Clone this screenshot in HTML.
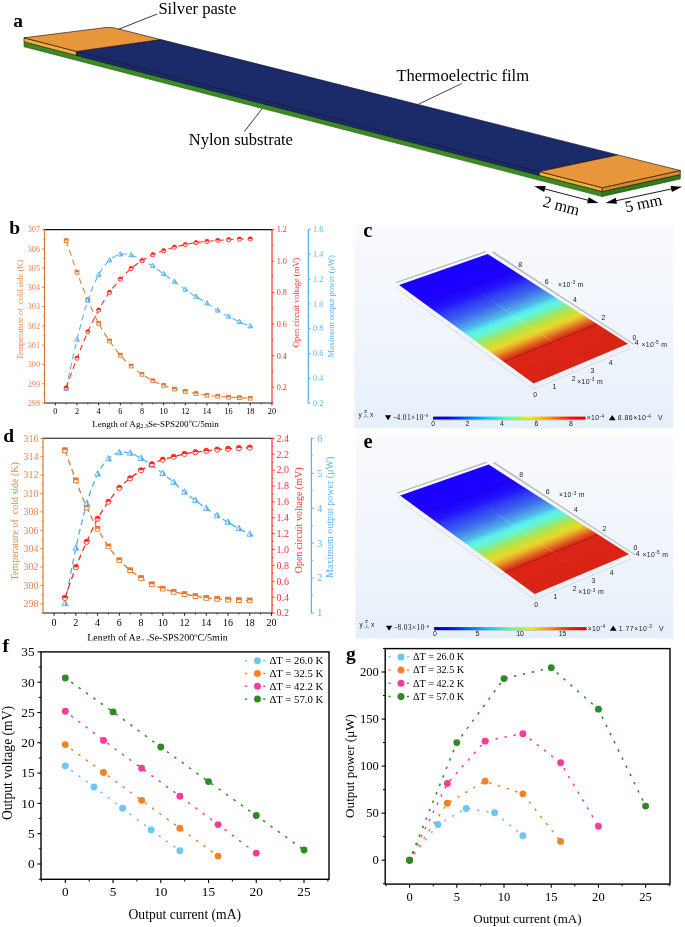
<!DOCTYPE html>
<html><head><meta charset="utf-8"><title>Figure</title>
<style>
html,body{margin:0;padding:0;background:#fff;}
body{width:685px;height:927px;overflow:hidden;font-family:"Liberation Serif",serif;}
svg{display:block;will-change:transform;}
.s{font-family:"Liberation Serif",serif;}
.n{font-family:"Liberation Sans",sans-serif;}
</style></head><body>
<svg width="685" height="927" viewBox="0 0 685 927">
<rect width="685" height="927" fill="#fff"/>
<g id="panel_a">
<polygon points="24,41.9 602.2,191.5 602.2,196.5 24,46.7" fill="#3b8a22" stroke="#245c14" stroke-width="0.65" stroke-linejoin="round"/>
<polygon points="602.2,191.5 680.3,174.6 680.3,178.9 602.2,196.5" fill="#2f7a1b" stroke="#1d4d10" stroke-width="0.65" stroke-linejoin="round"/>
<polygon points="24,37.8 76.4,51.4 76.4,55.47 24,41.9" fill="#f0b040" stroke="#1a1408" stroke-width="0.65" stroke-linejoin="round"/>
<polygon points="76.4,51.4 539.4,171.6 539.4,175.43 76.4,55.47" fill="#1b2a68" stroke="#0c1230" stroke-width="0.65" stroke-linejoin="round"/>
<polygon points="539.4,171.6 602.2,187.7 602.2,191.5 539.4,175.43" fill="#f0b040" stroke="#1a1408" stroke-width="0.65" stroke-linejoin="round"/>
<polygon points="602.2,187.7 680.3,170.5 680.3,174.6 602.2,191.5" fill="#d98a2e" stroke="#1a1408" stroke-width="0.65" stroke-linejoin="round"/>
<polygon points="76.4,51.4 160.8,39.6 617.8,154.9 539.4,171.6" fill="#1b2a68" stroke="#0c1230" stroke-width="0.65" stroke-linejoin="round"/>
<path d="M76.4 51.4 L24 37.8 L104.5 27.7 Q110.5 26.8 115.5 28.2 L160.8 39.6 Z" fill="#e8963c" stroke="#1a1408" stroke-width="0.65" stroke-linejoin="round"/>
<polygon points="539.4,171.6 617.8,154.9 680.3,170.5 602.2,187.7" fill="#e8963c" stroke="#1a1408" stroke-width="0.65" stroke-linejoin="round"/>
<line x1="157.2" y1="14" x2="118.7" y2="29.2" stroke="#222" stroke-width="0.9"/>
<line x1="461.8" y1="83.5" x2="413.5" y2="106.6" stroke="#333" stroke-width="0.9"/>
<line x1="261.8" y1="109" x2="244.3" y2="131.7" stroke="#222" stroke-width="0.9"/>
<text class="s" x="13.3" y="26.9" font-size="19.5" font-weight="bold">a</text>
<text class="s" x="158.4" y="13.6" font-size="16.6">Silver paste</text>
<text class="s" x="396.4" y="80.7" font-size="16.55">Thermoelectric film</text>
<text class="s" x="188.7" y="144.8" font-size="16.55">Nylon substrate</text>
<line x1="542.81" y1="188.42" x2="590.09" y2="200.78" stroke="#000" stroke-width="0.9"/><polygon points="534.3,186.2 544.16,191.98 545.73,185.98"/><polygon points="598.6,203 587.17,203.22 588.74,197.22"/>
<line x1="614.21" y1="201.16" x2="673.39" y2="188.54" stroke="#000" stroke-width="0.9"/><polygon points="605.6,203 617,203.74 615.71,197.67"/><polygon points="682,186.7 671.89,192.03 670.6,185.96"/>
<text class="s" x="560" y="211" font-size="16.2" text-anchor="middle" transform="rotate(14.6 560 211)">2 mm</text>
<text class="s" x="644.5" y="208.5" font-size="16.2" text-anchor="middle" transform="rotate(-12 644.5 208.5)">5 mm</text>
</g>
<g id="panel_bd">
<line x1="44" y1="229.6" x2="272.5" y2="229.6" stroke="#111" stroke-width="1.1"/>
<line x1="44" y1="403" x2="272.5" y2="403" stroke="#111" stroke-width="1.1"/>
<line x1="44.5" y1="229.6" x2="44.5" y2="403.5" stroke="#e07a30" stroke-width="1.2"/>
<line x1="272" y1="229.6" x2="272" y2="403.5" stroke="#ff2a20" stroke-width="1.2"/>
<line x1="308.3" y1="229.1" x2="308.3" y2="403.5" stroke="#4eb0f6" stroke-width="1.2"/>
<line x1="55.33" y1="403" x2="55.33" y2="405.4" stroke="#111" stroke-width="0.9"/>
<text class="s" x="55.33" y="414.2" font-size="8.2" text-anchor="middle">0</text>
<line x1="76.99" y1="403" x2="76.99" y2="405.4" stroke="#111" stroke-width="0.9"/>
<text class="s" x="76.99" y="414.2" font-size="8.2" text-anchor="middle">2</text>
<line x1="98.65" y1="403" x2="98.65" y2="405.4" stroke="#111" stroke-width="0.9"/>
<text class="s" x="98.65" y="414.2" font-size="8.2" text-anchor="middle">4</text>
<line x1="120.31" y1="403" x2="120.31" y2="405.4" stroke="#111" stroke-width="0.9"/>
<text class="s" x="120.31" y="414.2" font-size="8.2" text-anchor="middle">6</text>
<line x1="141.97" y1="403" x2="141.97" y2="405.4" stroke="#111" stroke-width="0.9"/>
<text class="s" x="141.97" y="414.2" font-size="8.2" text-anchor="middle">8</text>
<line x1="163.63" y1="403" x2="163.63" y2="405.4" stroke="#111" stroke-width="0.9"/>
<text class="s" x="163.63" y="414.2" font-size="8.2" text-anchor="middle">10</text>
<line x1="185.29" y1="403" x2="185.29" y2="405.4" stroke="#111" stroke-width="0.9"/>
<text class="s" x="185.29" y="414.2" font-size="8.2" text-anchor="middle">12</text>
<line x1="206.95" y1="403" x2="206.95" y2="405.4" stroke="#111" stroke-width="0.9"/>
<text class="s" x="206.95" y="414.2" font-size="8.2" text-anchor="middle">14</text>
<line x1="228.61" y1="403" x2="228.61" y2="405.4" stroke="#111" stroke-width="0.9"/>
<text class="s" x="228.61" y="414.2" font-size="8.2" text-anchor="middle">16</text>
<line x1="250.27" y1="403" x2="250.27" y2="405.4" stroke="#111" stroke-width="0.9"/>
<text class="s" x="250.27" y="414.2" font-size="8.2" text-anchor="middle">18</text>
<line x1="271.93" y1="403" x2="271.93" y2="405.4" stroke="#111" stroke-width="0.9"/>
<text class="s" x="271.93" y="414.2" font-size="8.2" text-anchor="middle">20</text>
<line x1="66.16" y1="403" x2="66.16" y2="404.32" stroke="#111" stroke-width="0.8"/>
<line x1="87.82" y1="403" x2="87.82" y2="404.32" stroke="#111" stroke-width="0.8"/>
<line x1="109.48" y1="403" x2="109.48" y2="404.32" stroke="#111" stroke-width="0.8"/>
<line x1="131.14" y1="403" x2="131.14" y2="404.32" stroke="#111" stroke-width="0.8"/>
<line x1="152.8" y1="403" x2="152.8" y2="404.32" stroke="#111" stroke-width="0.8"/>
<line x1="174.46" y1="403" x2="174.46" y2="404.32" stroke="#111" stroke-width="0.8"/>
<line x1="196.12" y1="403" x2="196.12" y2="404.32" stroke="#111" stroke-width="0.8"/>
<line x1="217.78" y1="403" x2="217.78" y2="404.32" stroke="#111" stroke-width="0.8"/>
<line x1="239.44" y1="403" x2="239.44" y2="404.32" stroke="#111" stroke-width="0.8"/>
<line x1="261.1" y1="403" x2="261.1" y2="404.32" stroke="#111" stroke-width="0.8"/>
<line x1="42.1" y1="403" x2="44.5" y2="403" stroke="#e07a30" stroke-width="0.9"/>
<text class="s" x="40" y="405.79" font-size="8.2" text-anchor="end" fill="#e8854a">298</text>
<line x1="42.1" y1="383.73" x2="44.5" y2="383.73" stroke="#e07a30" stroke-width="0.9"/>
<text class="s" x="40" y="386.52" font-size="8.2" text-anchor="end" fill="#e8854a">299</text>
<line x1="42.1" y1="364.47" x2="44.5" y2="364.47" stroke="#e07a30" stroke-width="0.9"/>
<text class="s" x="40" y="367.25" font-size="8.2" text-anchor="end" fill="#e8854a">300</text>
<line x1="42.1" y1="345.2" x2="44.5" y2="345.2" stroke="#e07a30" stroke-width="0.9"/>
<text class="s" x="40" y="347.99" font-size="8.2" text-anchor="end" fill="#e8854a">301</text>
<line x1="42.1" y1="325.93" x2="44.5" y2="325.93" stroke="#e07a30" stroke-width="0.9"/>
<text class="s" x="40" y="328.72" font-size="8.2" text-anchor="end" fill="#e8854a">302</text>
<line x1="42.1" y1="306.67" x2="44.5" y2="306.67" stroke="#e07a30" stroke-width="0.9"/>
<text class="s" x="40" y="309.45" font-size="8.2" text-anchor="end" fill="#e8854a">303</text>
<line x1="42.1" y1="287.4" x2="44.5" y2="287.4" stroke="#e07a30" stroke-width="0.9"/>
<text class="s" x="40" y="290.19" font-size="8.2" text-anchor="end" fill="#e8854a">304</text>
<line x1="42.1" y1="268.13" x2="44.5" y2="268.13" stroke="#e07a30" stroke-width="0.9"/>
<text class="s" x="40" y="270.92" font-size="8.2" text-anchor="end" fill="#e8854a">305</text>
<line x1="42.1" y1="248.87" x2="44.5" y2="248.87" stroke="#e07a30" stroke-width="0.9"/>
<text class="s" x="40" y="251.65" font-size="8.2" text-anchor="end" fill="#e8854a">306</text>
<line x1="42.1" y1="229.6" x2="44.5" y2="229.6" stroke="#e07a30" stroke-width="0.9"/>
<text class="s" x="40" y="232.39" font-size="8.2" text-anchor="end" fill="#e8854a">307</text>
<line x1="43.18" y1="393.37" x2="44.5" y2="393.37" stroke="#e07a30" stroke-width="0.8"/>
<line x1="43.18" y1="374.1" x2="44.5" y2="374.1" stroke="#e07a30" stroke-width="0.8"/>
<line x1="43.18" y1="354.83" x2="44.5" y2="354.83" stroke="#e07a30" stroke-width="0.8"/>
<line x1="43.18" y1="335.57" x2="44.5" y2="335.57" stroke="#e07a30" stroke-width="0.8"/>
<line x1="43.18" y1="316.3" x2="44.5" y2="316.3" stroke="#e07a30" stroke-width="0.8"/>
<line x1="43.18" y1="297.03" x2="44.5" y2="297.03" stroke="#e07a30" stroke-width="0.8"/>
<line x1="43.18" y1="277.77" x2="44.5" y2="277.77" stroke="#e07a30" stroke-width="0.8"/>
<line x1="43.18" y1="258.5" x2="44.5" y2="258.5" stroke="#e07a30" stroke-width="0.8"/>
<line x1="43.18" y1="239.23" x2="44.5" y2="239.23" stroke="#e07a30" stroke-width="0.8"/>
<line x1="272" y1="387.24" x2="274.4" y2="387.24" stroke="#ff2a20" stroke-width="0.9"/>
<text class="s" x="276.7" y="390.02" font-size="8.2" fill="#ff3030">0.2</text>
<line x1="272" y1="355.71" x2="274.4" y2="355.71" stroke="#ff2a20" stroke-width="0.9"/>
<text class="s" x="276.7" y="358.5" font-size="8.2" fill="#ff3030">0.4</text>
<line x1="272" y1="324.18" x2="274.4" y2="324.18" stroke="#ff2a20" stroke-width="0.9"/>
<text class="s" x="276.7" y="326.97" font-size="8.2" fill="#ff3030">0.6</text>
<line x1="272" y1="292.65" x2="274.4" y2="292.65" stroke="#ff2a20" stroke-width="0.9"/>
<text class="s" x="276.7" y="295.44" font-size="8.2" fill="#ff3030">0.8</text>
<line x1="272" y1="261.13" x2="274.4" y2="261.13" stroke="#ff2a20" stroke-width="0.9"/>
<text class="s" x="276.7" y="263.92" font-size="8.2" fill="#ff3030">1.0</text>
<line x1="272" y1="229.6" x2="274.4" y2="229.6" stroke="#ff2a20" stroke-width="0.9"/>
<text class="s" x="276.7" y="232.39" font-size="8.2" fill="#ff3030">1.2</text>
<line x1="272" y1="403" x2="273.32" y2="403" stroke="#ff2a20" stroke-width="0.8"/>
<line x1="272" y1="371.47" x2="273.32" y2="371.47" stroke="#ff2a20" stroke-width="0.8"/>
<line x1="272" y1="339.95" x2="273.32" y2="339.95" stroke="#ff2a20" stroke-width="0.8"/>
<line x1="272" y1="308.42" x2="273.32" y2="308.42" stroke="#ff2a20" stroke-width="0.8"/>
<line x1="272" y1="276.89" x2="273.32" y2="276.89" stroke="#ff2a20" stroke-width="0.8"/>
<line x1="272" y1="245.36" x2="273.32" y2="245.36" stroke="#ff2a20" stroke-width="0.8"/>
<line x1="308.3" y1="403" x2="310.7" y2="403" stroke="#4eb0f6" stroke-width="0.9"/>
<text class="s" x="313.1" y="405.79" font-size="8.2" fill="#55b5f5">0.2</text>
<line x1="308.3" y1="378.23" x2="310.7" y2="378.23" stroke="#4eb0f6" stroke-width="0.9"/>
<text class="s" x="313.1" y="381.02" font-size="8.2" fill="#55b5f5">0.4</text>
<line x1="308.3" y1="353.46" x2="310.7" y2="353.46" stroke="#4eb0f6" stroke-width="0.9"/>
<text class="s" x="313.1" y="356.25" font-size="8.2" fill="#55b5f5">0.6</text>
<line x1="308.3" y1="328.69" x2="310.7" y2="328.69" stroke="#4eb0f6" stroke-width="0.9"/>
<text class="s" x="313.1" y="331.47" font-size="8.2" fill="#55b5f5">0.8</text>
<line x1="308.3" y1="303.91" x2="310.7" y2="303.91" stroke="#4eb0f6" stroke-width="0.9"/>
<text class="s" x="313.1" y="306.7" font-size="8.2" fill="#55b5f5">1.0</text>
<line x1="308.3" y1="279.14" x2="310.7" y2="279.14" stroke="#4eb0f6" stroke-width="0.9"/>
<text class="s" x="313.1" y="281.93" font-size="8.2" fill="#55b5f5">1.2</text>
<line x1="308.3" y1="254.37" x2="310.7" y2="254.37" stroke="#4eb0f6" stroke-width="0.9"/>
<text class="s" x="313.1" y="257.16" font-size="8.2" fill="#55b5f5">1.4</text>
<line x1="308.3" y1="229.6" x2="310.7" y2="229.6" stroke="#4eb0f6" stroke-width="0.9"/>
<text class="s" x="313.1" y="232.39" font-size="8.2" fill="#55b5f5">1.6</text>
<line x1="308.3" y1="390.61" x2="309.62" y2="390.61" stroke="#4eb0f6" stroke-width="0.8"/>
<line x1="308.3" y1="365.84" x2="309.62" y2="365.84" stroke="#4eb0f6" stroke-width="0.8"/>
<line x1="308.3" y1="341.07" x2="309.62" y2="341.07" stroke="#4eb0f6" stroke-width="0.8"/>
<line x1="308.3" y1="316.3" x2="309.62" y2="316.3" stroke="#4eb0f6" stroke-width="0.8"/>
<line x1="308.3" y1="291.53" x2="309.62" y2="291.53" stroke="#4eb0f6" stroke-width="0.8"/>
<line x1="308.3" y1="266.76" x2="309.62" y2="266.76" stroke="#4eb0f6" stroke-width="0.8"/>
<line x1="308.3" y1="241.99" x2="309.62" y2="241.99" stroke="#4eb0f6" stroke-width="0.8"/>
<text class="s" x="22.6" y="309.8" font-size="8.45" text-anchor="middle" fill="#e8854a" transform="rotate(-90 22.6 309.8)">Temperature of&#160; cold side (K)</text>
<text class="s" x="298.9" y="302.5" font-size="8.45" text-anchor="middle" fill="#ff3030" transform="rotate(-90 298.9 302.5)">Open circuit voltage (mV)</text>
<text class="s" x="333.9" y="306.3" font-size="8.45" text-anchor="middle" fill="#55b5f5" transform="rotate(-90 333.9 306.3)">Maximum output power (&#956;W)</text>
<text class="s" x="92.2" y="426.5" font-size="9.05">Length of Ag<tspan font-size="5.97" dy="1.99">2.3</tspan><tspan dy="-1.99">Se-SPS200</tspan><tspan font-size="5.97" dy="-3.26">o</tspan><tspan dy="3.26">C/5min</tspan></text>
<path d="M66.16 240.6 C67.97 245.88 73.38 262.42 76.99 272.3 C80.6 282.18 84.21 291.42 87.82 299.9 C91.43 308.38 95.04 316.37 98.65 323.2 C102.26 330.03 105.87 335.57 109.48 340.9 C113.09 346.23 116.7 351.02 120.31 355.2 C123.92 359.38 127.53 362.82 131.14 366 C134.75 369.18 138.36 371.83 141.97 374.3 C145.58 376.77 149.19 378.95 152.8 380.8 C156.41 382.65 160.02 384.02 163.63 385.4 C167.24 386.78 170.85 388.1 174.46 389.1 C178.07 390.1 181.68 390.65 185.29 391.4 C188.9 392.15 192.51 392.97 196.12 393.6 C199.73 394.23 203.34 394.77 206.95 395.2 C210.56 395.63 214.17 395.87 217.78 396.2 C221.39 396.53 225 396.95 228.61 397.2 C232.22 397.45 235.83 397.53 239.44 397.7 C243.05 397.87 248.46 398.12 250.27 398.2" fill="none" stroke="#e07a30" stroke-width="1.05" stroke-dasharray="6 4"/>
<rect x="64.26" y="238.7" width="3.8" height="3.8" fill="#fff" stroke="#e07a30" stroke-width="0.9"/><rect x="64.26" y="238.7" width="3.8" height="1.9" fill="#e07a30"/>
<rect x="75.09" y="270.4" width="3.8" height="3.8" fill="#fff" stroke="#e07a30" stroke-width="0.9"/><rect x="75.09" y="270.4" width="3.8" height="1.9" fill="#e07a30"/>
<rect x="85.92" y="298" width="3.8" height="3.8" fill="#fff" stroke="#e07a30" stroke-width="0.9"/><rect x="85.92" y="298" width="3.8" height="1.9" fill="#e07a30"/>
<rect x="96.75" y="321.3" width="3.8" height="3.8" fill="#fff" stroke="#e07a30" stroke-width="0.9"/><rect x="96.75" y="321.3" width="3.8" height="1.9" fill="#e07a30"/>
<rect x="107.58" y="339" width="3.8" height="3.8" fill="#fff" stroke="#e07a30" stroke-width="0.9"/><rect x="107.58" y="339" width="3.8" height="1.9" fill="#e07a30"/>
<rect x="118.41" y="353.3" width="3.8" height="3.8" fill="#fff" stroke="#e07a30" stroke-width="0.9"/><rect x="118.41" y="353.3" width="3.8" height="1.9" fill="#e07a30"/>
<rect x="129.24" y="364.1" width="3.8" height="3.8" fill="#fff" stroke="#e07a30" stroke-width="0.9"/><rect x="129.24" y="364.1" width="3.8" height="1.9" fill="#e07a30"/>
<rect x="140.07" y="372.4" width="3.8" height="3.8" fill="#fff" stroke="#e07a30" stroke-width="0.9"/><rect x="140.07" y="372.4" width="3.8" height="1.9" fill="#e07a30"/>
<rect x="150.9" y="378.9" width="3.8" height="3.8" fill="#fff" stroke="#e07a30" stroke-width="0.9"/><rect x="150.9" y="378.9" width="3.8" height="1.9" fill="#e07a30"/>
<rect x="161.73" y="383.5" width="3.8" height="3.8" fill="#fff" stroke="#e07a30" stroke-width="0.9"/><rect x="161.73" y="383.5" width="3.8" height="1.9" fill="#e07a30"/>
<rect x="172.56" y="387.2" width="3.8" height="3.8" fill="#fff" stroke="#e07a30" stroke-width="0.9"/><rect x="172.56" y="387.2" width="3.8" height="1.9" fill="#e07a30"/>
<rect x="183.39" y="389.5" width="3.8" height="3.8" fill="#fff" stroke="#e07a30" stroke-width="0.9"/><rect x="183.39" y="389.5" width="3.8" height="1.9" fill="#e07a30"/>
<rect x="194.22" y="391.7" width="3.8" height="3.8" fill="#fff" stroke="#e07a30" stroke-width="0.9"/><rect x="194.22" y="391.7" width="3.8" height="1.9" fill="#e07a30"/>
<rect x="205.05" y="393.3" width="3.8" height="3.8" fill="#fff" stroke="#e07a30" stroke-width="0.9"/><rect x="205.05" y="393.3" width="3.8" height="1.9" fill="#e07a30"/>
<rect x="215.88" y="394.3" width="3.8" height="3.8" fill="#fff" stroke="#e07a30" stroke-width="0.9"/><rect x="215.88" y="394.3" width="3.8" height="1.9" fill="#e07a30"/>
<rect x="226.71" y="395.3" width="3.8" height="3.8" fill="#fff" stroke="#e07a30" stroke-width="0.9"/><rect x="226.71" y="395.3" width="3.8" height="1.9" fill="#e07a30"/>
<rect x="237.54" y="395.8" width="3.8" height="3.8" fill="#fff" stroke="#e07a30" stroke-width="0.9"/><rect x="237.54" y="395.8" width="3.8" height="1.9" fill="#e07a30"/>
<rect x="248.37" y="396.3" width="3.8" height="3.8" fill="#fff" stroke="#e07a30" stroke-width="0.9"/><rect x="248.37" y="396.3" width="3.8" height="1.9" fill="#e07a30"/>
<path d="M66.16 388.6 C67.97 380.43 73.38 354.3 76.99 339.6 C80.6 324.9 84.21 311.2 87.82 300.4 C91.43 289.6 95.04 281.5 98.65 274.8 C102.26 268.1 105.87 263.6 109.48 260.2 C113.09 256.8 116.7 255.23 120.31 254.4 C123.92 253.57 127.53 254.23 131.14 255.2 C134.75 256.17 138.36 258.4 141.97 260.2 C145.58 262 149.19 263.7 152.8 266 C156.41 268.3 160.02 271.4 163.63 274 C167.24 276.6 170.85 279 174.46 281.6 C178.07 284.2 181.68 287.08 185.29 289.6 C188.9 292.12 192.51 294.4 196.12 296.7 C199.73 299 203.34 301.1 206.95 303.4 C210.56 305.7 214.17 308.32 217.78 310.5 C221.39 312.68 225 314.62 228.61 316.5 C232.22 318.38 235.83 320.17 239.44 321.8 C243.05 323.43 248.46 325.55 250.27 326.3" fill="none" stroke="#4eb0f6" stroke-width="1.05" stroke-dasharray="6 4"/>
<polygon points="66.16,385.9 63.81,390.22 68.51,390.22" fill="#fff" stroke="#4eb0f6" stroke-width="0.9"/><polygon points="66.16,385.9 66.16,390.22 68.51,390.22" fill="#4eb0f6"/>
<polygon points="76.99,336.9 74.64,341.22 79.34,341.22" fill="#fff" stroke="#4eb0f6" stroke-width="0.9"/><polygon points="76.99,336.9 76.99,341.22 79.34,341.22" fill="#4eb0f6"/>
<polygon points="87.82,297.7 85.47,302.02 90.17,302.02" fill="#fff" stroke="#4eb0f6" stroke-width="0.9"/><polygon points="87.82,297.7 87.82,302.02 90.17,302.02" fill="#4eb0f6"/>
<polygon points="98.65,272.1 96.3,276.42 101,276.42" fill="#fff" stroke="#4eb0f6" stroke-width="0.9"/><polygon points="98.65,272.1 98.65,276.42 101,276.42" fill="#4eb0f6"/>
<polygon points="109.48,257.5 107.13,261.82 111.83,261.82" fill="#fff" stroke="#4eb0f6" stroke-width="0.9"/><polygon points="109.48,257.5 109.48,261.82 111.83,261.82" fill="#4eb0f6"/>
<polygon points="120.31,251.7 117.96,256.02 122.66,256.02" fill="#fff" stroke="#4eb0f6" stroke-width="0.9"/><polygon points="120.31,251.7 120.31,256.02 122.66,256.02" fill="#4eb0f6"/>
<polygon points="131.14,252.5 128.79,256.82 133.49,256.82" fill="#fff" stroke="#4eb0f6" stroke-width="0.9"/><polygon points="131.14,252.5 131.14,256.82 133.49,256.82" fill="#4eb0f6"/>
<polygon points="141.97,257.5 139.62,261.82 144.32,261.82" fill="#fff" stroke="#4eb0f6" stroke-width="0.9"/><polygon points="141.97,257.5 141.97,261.82 144.32,261.82" fill="#4eb0f6"/>
<polygon points="152.8,263.3 150.45,267.62 155.15,267.62" fill="#fff" stroke="#4eb0f6" stroke-width="0.9"/><polygon points="152.8,263.3 152.8,267.62 155.15,267.62" fill="#4eb0f6"/>
<polygon points="163.63,271.3 161.28,275.62 165.98,275.62" fill="#fff" stroke="#4eb0f6" stroke-width="0.9"/><polygon points="163.63,271.3 163.63,275.62 165.98,275.62" fill="#4eb0f6"/>
<polygon points="174.46,278.9 172.11,283.22 176.81,283.22" fill="#fff" stroke="#4eb0f6" stroke-width="0.9"/><polygon points="174.46,278.9 174.46,283.22 176.81,283.22" fill="#4eb0f6"/>
<polygon points="185.29,286.9 182.94,291.22 187.64,291.22" fill="#fff" stroke="#4eb0f6" stroke-width="0.9"/><polygon points="185.29,286.9 185.29,291.22 187.64,291.22" fill="#4eb0f6"/>
<polygon points="196.12,294 193.77,298.32 198.47,298.32" fill="#fff" stroke="#4eb0f6" stroke-width="0.9"/><polygon points="196.12,294 196.12,298.32 198.47,298.32" fill="#4eb0f6"/>
<polygon points="206.95,300.7 204.6,305.02 209.3,305.02" fill="#fff" stroke="#4eb0f6" stroke-width="0.9"/><polygon points="206.95,300.7 206.95,305.02 209.3,305.02" fill="#4eb0f6"/>
<polygon points="217.78,307.8 215.43,312.12 220.13,312.12" fill="#fff" stroke="#4eb0f6" stroke-width="0.9"/><polygon points="217.78,307.8 217.78,312.12 220.13,312.12" fill="#4eb0f6"/>
<polygon points="228.61,313.8 226.26,318.12 230.96,318.12" fill="#fff" stroke="#4eb0f6" stroke-width="0.9"/><polygon points="228.61,313.8 228.61,318.12 230.96,318.12" fill="#4eb0f6"/>
<polygon points="239.44,319.1 237.09,323.42 241.79,323.42" fill="#fff" stroke="#4eb0f6" stroke-width="0.9"/><polygon points="239.44,319.1 239.44,323.42 241.79,323.42" fill="#4eb0f6"/>
<polygon points="250.27,323.6 247.92,327.92 252.62,327.92" fill="#fff" stroke="#4eb0f6" stroke-width="0.9"/><polygon points="250.27,323.6 250.27,327.92 252.62,327.92" fill="#4eb0f6"/>
<path d="M66.16 387.9 C67.97 382.95 73.38 367.55 76.99 358.2 C80.6 348.85 84.21 339.83 87.82 331.8 C91.43 323.77 95.04 316.57 98.65 310 C102.26 303.43 105.87 297.55 109.48 292.4 C113.09 287.25 116.7 283.08 120.31 279.1 C123.92 275.12 127.53 271.57 131.14 268.5 C134.75 265.43 138.36 263 141.97 260.7 C145.58 258.4 149.19 256.37 152.8 254.7 C156.41 253.03 160.02 251.95 163.63 250.7 C167.24 249.45 170.85 248.22 174.46 247.2 C178.07 246.18 181.68 245.37 185.29 244.6 C188.9 243.83 192.51 243.13 196.12 242.6 C199.73 242.07 203.34 241.77 206.95 241.4 C210.56 241.03 214.17 240.7 217.78 240.4 C221.39 240.1 225 239.82 228.61 239.6 C232.22 239.38 235.83 239.22 239.44 239.1 C243.05 238.98 248.46 238.93 250.27 238.9" fill="none" stroke="#ff2a20" stroke-width="1.05" stroke-dasharray="6 4"/>
<circle cx="66.16" cy="387.9" r="2.1" fill="#fff" stroke="#ff2a20" stroke-width="0.9"/><path d="M64.06 387.9 A2.1 2.1 0 0 1 68.26 387.9 Z" fill="#ff2a20"/>
<circle cx="76.99" cy="358.2" r="2.1" fill="#fff" stroke="#ff2a20" stroke-width="0.9"/><path d="M74.89 358.2 A2.1 2.1 0 0 1 79.09 358.2 Z" fill="#ff2a20"/>
<circle cx="87.82" cy="331.8" r="2.1" fill="#fff" stroke="#ff2a20" stroke-width="0.9"/><path d="M85.72 331.8 A2.1 2.1 0 0 1 89.92 331.8 Z" fill="#ff2a20"/>
<circle cx="98.65" cy="310" r="2.1" fill="#fff" stroke="#ff2a20" stroke-width="0.9"/><path d="M96.55 310 A2.1 2.1 0 0 1 100.75 310 Z" fill="#ff2a20"/>
<circle cx="109.48" cy="292.4" r="2.1" fill="#fff" stroke="#ff2a20" stroke-width="0.9"/><path d="M107.38 292.4 A2.1 2.1 0 0 1 111.58 292.4 Z" fill="#ff2a20"/>
<circle cx="120.31" cy="279.1" r="2.1" fill="#fff" stroke="#ff2a20" stroke-width="0.9"/><path d="M118.21 279.1 A2.1 2.1 0 0 1 122.41 279.1 Z" fill="#ff2a20"/>
<circle cx="131.14" cy="268.5" r="2.1" fill="#fff" stroke="#ff2a20" stroke-width="0.9"/><path d="M129.04 268.5 A2.1 2.1 0 0 1 133.24 268.5 Z" fill="#ff2a20"/>
<circle cx="141.97" cy="260.7" r="2.1" fill="#fff" stroke="#ff2a20" stroke-width="0.9"/><path d="M139.87 260.7 A2.1 2.1 0 0 1 144.07 260.7 Z" fill="#ff2a20"/>
<circle cx="152.8" cy="254.7" r="2.1" fill="#fff" stroke="#ff2a20" stroke-width="0.9"/><path d="M150.7 254.7 A2.1 2.1 0 0 1 154.9 254.7 Z" fill="#ff2a20"/>
<circle cx="163.63" cy="250.7" r="2.1" fill="#fff" stroke="#ff2a20" stroke-width="0.9"/><path d="M161.53 250.7 A2.1 2.1 0 0 1 165.73 250.7 Z" fill="#ff2a20"/>
<circle cx="174.46" cy="247.2" r="2.1" fill="#fff" stroke="#ff2a20" stroke-width="0.9"/><path d="M172.36 247.2 A2.1 2.1 0 0 1 176.56 247.2 Z" fill="#ff2a20"/>
<circle cx="185.29" cy="244.6" r="2.1" fill="#fff" stroke="#ff2a20" stroke-width="0.9"/><path d="M183.19 244.6 A2.1 2.1 0 0 1 187.39 244.6 Z" fill="#ff2a20"/>
<circle cx="196.12" cy="242.6" r="2.1" fill="#fff" stroke="#ff2a20" stroke-width="0.9"/><path d="M194.02 242.6 A2.1 2.1 0 0 1 198.22 242.6 Z" fill="#ff2a20"/>
<circle cx="206.95" cy="241.4" r="2.1" fill="#fff" stroke="#ff2a20" stroke-width="0.9"/><path d="M204.85 241.4 A2.1 2.1 0 0 1 209.05 241.4 Z" fill="#ff2a20"/>
<circle cx="217.78" cy="240.4" r="2.1" fill="#fff" stroke="#ff2a20" stroke-width="0.9"/><path d="M215.68 240.4 A2.1 2.1 0 0 1 219.88 240.4 Z" fill="#ff2a20"/>
<circle cx="228.61" cy="239.6" r="2.1" fill="#fff" stroke="#ff2a20" stroke-width="0.9"/><path d="M226.51 239.6 A2.1 2.1 0 0 1 230.71 239.6 Z" fill="#ff2a20"/>
<circle cx="239.44" cy="239.1" r="2.1" fill="#fff" stroke="#ff2a20" stroke-width="0.9"/><path d="M237.34 239.1 A2.1 2.1 0 0 1 241.54 239.1 Z" fill="#ff2a20"/>
<circle cx="250.27" cy="238.9" r="2.1" fill="#fff" stroke="#ff2a20" stroke-width="0.9"/><path d="M248.17 238.9 A2.1 2.1 0 0 1 252.37 238.9 Z" fill="#ff2a20"/>
<text class="s" x="9.2" y="233.6" font-size="19.5" font-weight="bold">b</text>
<line x1="42.5" y1="438.3" x2="272.5" y2="438.3" stroke="#111" stroke-width="1.1"/>
<line x1="42.5" y1="613" x2="272.5" y2="613" stroke="#111" stroke-width="1.1"/>
<line x1="43" y1="438.3" x2="43" y2="613.5" stroke="#e07a30" stroke-width="1.2"/>
<line x1="272" y1="438.3" x2="272" y2="613.5" stroke="#ff2a20" stroke-width="1.2"/>
<line x1="311.4" y1="437.8" x2="311.4" y2="613.5" stroke="#4eb0f6" stroke-width="1.2"/>
<line x1="54.1" y1="613" x2="54.1" y2="615.8" stroke="#111" stroke-width="0.9"/>
<text class="s" x="54.1" y="625.5" font-size="10" text-anchor="middle">0</text>
<line x1="75.84" y1="613" x2="75.84" y2="615.8" stroke="#111" stroke-width="0.9"/>
<text class="s" x="75.84" y="625.5" font-size="10" text-anchor="middle">2</text>
<line x1="97.58" y1="613" x2="97.58" y2="615.8" stroke="#111" stroke-width="0.9"/>
<text class="s" x="97.58" y="625.5" font-size="10" text-anchor="middle">4</text>
<line x1="119.32" y1="613" x2="119.32" y2="615.8" stroke="#111" stroke-width="0.9"/>
<text class="s" x="119.32" y="625.5" font-size="10" text-anchor="middle">6</text>
<line x1="141.06" y1="613" x2="141.06" y2="615.8" stroke="#111" stroke-width="0.9"/>
<text class="s" x="141.06" y="625.5" font-size="10" text-anchor="middle">8</text>
<line x1="162.8" y1="613" x2="162.8" y2="615.8" stroke="#111" stroke-width="0.9"/>
<text class="s" x="162.8" y="625.5" font-size="10" text-anchor="middle">10</text>
<line x1="184.54" y1="613" x2="184.54" y2="615.8" stroke="#111" stroke-width="0.9"/>
<text class="s" x="184.54" y="625.5" font-size="10" text-anchor="middle">12</text>
<line x1="206.28" y1="613" x2="206.28" y2="615.8" stroke="#111" stroke-width="0.9"/>
<text class="s" x="206.28" y="625.5" font-size="10" text-anchor="middle">14</text>
<line x1="228.02" y1="613" x2="228.02" y2="615.8" stroke="#111" stroke-width="0.9"/>
<text class="s" x="228.02" y="625.5" font-size="10" text-anchor="middle">16</text>
<line x1="249.76" y1="613" x2="249.76" y2="615.8" stroke="#111" stroke-width="0.9"/>
<text class="s" x="249.76" y="625.5" font-size="10" text-anchor="middle">18</text>
<line x1="271.5" y1="613" x2="271.5" y2="615.8" stroke="#111" stroke-width="0.9"/>
<text class="s" x="271.5" y="625.5" font-size="10" text-anchor="middle">20</text>
<line x1="64.97" y1="613" x2="64.97" y2="614.54" stroke="#111" stroke-width="0.8"/>
<line x1="86.71" y1="613" x2="86.71" y2="614.54" stroke="#111" stroke-width="0.8"/>
<line x1="108.45" y1="613" x2="108.45" y2="614.54" stroke="#111" stroke-width="0.8"/>
<line x1="130.19" y1="613" x2="130.19" y2="614.54" stroke="#111" stroke-width="0.8"/>
<line x1="151.93" y1="613" x2="151.93" y2="614.54" stroke="#111" stroke-width="0.8"/>
<line x1="173.67" y1="613" x2="173.67" y2="614.54" stroke="#111" stroke-width="0.8"/>
<line x1="195.41" y1="613" x2="195.41" y2="614.54" stroke="#111" stroke-width="0.8"/>
<line x1="217.15" y1="613" x2="217.15" y2="614.54" stroke="#111" stroke-width="0.8"/>
<line x1="238.89" y1="613" x2="238.89" y2="614.54" stroke="#111" stroke-width="0.8"/>
<line x1="260.63" y1="613" x2="260.63" y2="614.54" stroke="#111" stroke-width="0.8"/>
<line x1="40.2" y1="603.81" x2="43" y2="603.81" stroke="#e07a30" stroke-width="0.9"/>
<text class="s" x="38.5" y="607.21" font-size="10" text-anchor="end" fill="#e8854a">298</text>
<line x1="40.2" y1="585.42" x2="43" y2="585.42" stroke="#e07a30" stroke-width="0.9"/>
<text class="s" x="38.5" y="588.82" font-size="10" text-anchor="end" fill="#e8854a">300</text>
<line x1="40.2" y1="567.03" x2="43" y2="567.03" stroke="#e07a30" stroke-width="0.9"/>
<text class="s" x="38.5" y="570.43" font-size="10" text-anchor="end" fill="#e8854a">302</text>
<line x1="40.2" y1="548.64" x2="43" y2="548.64" stroke="#e07a30" stroke-width="0.9"/>
<text class="s" x="38.5" y="552.04" font-size="10" text-anchor="end" fill="#e8854a">304</text>
<line x1="40.2" y1="530.25" x2="43" y2="530.25" stroke="#e07a30" stroke-width="0.9"/>
<text class="s" x="38.5" y="533.65" font-size="10" text-anchor="end" fill="#e8854a">306</text>
<line x1="40.2" y1="511.86" x2="43" y2="511.86" stroke="#e07a30" stroke-width="0.9"/>
<text class="s" x="38.5" y="515.26" font-size="10" text-anchor="end" fill="#e8854a">308</text>
<line x1="40.2" y1="493.47" x2="43" y2="493.47" stroke="#e07a30" stroke-width="0.9"/>
<text class="s" x="38.5" y="496.87" font-size="10" text-anchor="end" fill="#e8854a">310</text>
<line x1="40.2" y1="475.08" x2="43" y2="475.08" stroke="#e07a30" stroke-width="0.9"/>
<text class="s" x="38.5" y="478.48" font-size="10" text-anchor="end" fill="#e8854a">312</text>
<line x1="40.2" y1="456.69" x2="43" y2="456.69" stroke="#e07a30" stroke-width="0.9"/>
<text class="s" x="38.5" y="460.09" font-size="10" text-anchor="end" fill="#e8854a">314</text>
<line x1="40.2" y1="438.3" x2="43" y2="438.3" stroke="#e07a30" stroke-width="0.9"/>
<text class="s" x="38.5" y="441.7" font-size="10" text-anchor="end" fill="#e8854a">316</text>
<line x1="41.46" y1="613" x2="43" y2="613" stroke="#e07a30" stroke-width="0.8"/>
<line x1="41.46" y1="594.61" x2="43" y2="594.61" stroke="#e07a30" stroke-width="0.8"/>
<line x1="41.46" y1="576.22" x2="43" y2="576.22" stroke="#e07a30" stroke-width="0.8"/>
<line x1="41.46" y1="557.83" x2="43" y2="557.83" stroke="#e07a30" stroke-width="0.8"/>
<line x1="41.46" y1="539.44" x2="43" y2="539.44" stroke="#e07a30" stroke-width="0.8"/>
<line x1="41.46" y1="521.05" x2="43" y2="521.05" stroke="#e07a30" stroke-width="0.8"/>
<line x1="41.46" y1="502.66" x2="43" y2="502.66" stroke="#e07a30" stroke-width="0.8"/>
<line x1="41.46" y1="484.27" x2="43" y2="484.27" stroke="#e07a30" stroke-width="0.8"/>
<line x1="41.46" y1="465.88" x2="43" y2="465.88" stroke="#e07a30" stroke-width="0.8"/>
<line x1="41.46" y1="447.49" x2="43" y2="447.49" stroke="#e07a30" stroke-width="0.8"/>
<line x1="272" y1="613" x2="274.8" y2="613" stroke="#ff2a20" stroke-width="0.9"/>
<text class="s" x="276.4" y="616.4" font-size="10" fill="#ff3030">0.2</text>
<line x1="272" y1="597.12" x2="274.8" y2="597.12" stroke="#ff2a20" stroke-width="0.9"/>
<text class="s" x="276.4" y="600.52" font-size="10" fill="#ff3030">0.4</text>
<line x1="272" y1="581.24" x2="274.8" y2="581.24" stroke="#ff2a20" stroke-width="0.9"/>
<text class="s" x="276.4" y="584.64" font-size="10" fill="#ff3030">0.6</text>
<line x1="272" y1="565.35" x2="274.8" y2="565.35" stroke="#ff2a20" stroke-width="0.9"/>
<text class="s" x="276.4" y="568.75" font-size="10" fill="#ff3030">0.8</text>
<line x1="272" y1="549.47" x2="274.8" y2="549.47" stroke="#ff2a20" stroke-width="0.9"/>
<text class="s" x="276.4" y="552.87" font-size="10" fill="#ff3030">1.0</text>
<line x1="272" y1="533.59" x2="274.8" y2="533.59" stroke="#ff2a20" stroke-width="0.9"/>
<text class="s" x="276.4" y="536.99" font-size="10" fill="#ff3030">1.2</text>
<line x1="272" y1="517.71" x2="274.8" y2="517.71" stroke="#ff2a20" stroke-width="0.9"/>
<text class="s" x="276.4" y="521.11" font-size="10" fill="#ff3030">1.4</text>
<line x1="272" y1="501.83" x2="274.8" y2="501.83" stroke="#ff2a20" stroke-width="0.9"/>
<text class="s" x="276.4" y="505.23" font-size="10" fill="#ff3030">1.6</text>
<line x1="272" y1="485.95" x2="274.8" y2="485.95" stroke="#ff2a20" stroke-width="0.9"/>
<text class="s" x="276.4" y="489.35" font-size="10" fill="#ff3030">1.8</text>
<line x1="272" y1="470.06" x2="274.8" y2="470.06" stroke="#ff2a20" stroke-width="0.9"/>
<text class="s" x="276.4" y="473.46" font-size="10" fill="#ff3030">2.0</text>
<line x1="272" y1="454.18" x2="274.8" y2="454.18" stroke="#ff2a20" stroke-width="0.9"/>
<text class="s" x="276.4" y="457.58" font-size="10" fill="#ff3030">2.2</text>
<line x1="272" y1="438.3" x2="274.8" y2="438.3" stroke="#ff2a20" stroke-width="0.9"/>
<text class="s" x="276.4" y="441.7" font-size="10" fill="#ff3030">2.4</text>
<line x1="272" y1="605.06" x2="273.54" y2="605.06" stroke="#ff2a20" stroke-width="0.8"/>
<line x1="272" y1="589.18" x2="273.54" y2="589.18" stroke="#ff2a20" stroke-width="0.8"/>
<line x1="272" y1="573.3" x2="273.54" y2="573.3" stroke="#ff2a20" stroke-width="0.8"/>
<line x1="272" y1="557.41" x2="273.54" y2="557.41" stroke="#ff2a20" stroke-width="0.8"/>
<line x1="272" y1="541.53" x2="273.54" y2="541.53" stroke="#ff2a20" stroke-width="0.8"/>
<line x1="272" y1="525.65" x2="273.54" y2="525.65" stroke="#ff2a20" stroke-width="0.8"/>
<line x1="272" y1="509.77" x2="273.54" y2="509.77" stroke="#ff2a20" stroke-width="0.8"/>
<line x1="272" y1="493.89" x2="273.54" y2="493.89" stroke="#ff2a20" stroke-width="0.8"/>
<line x1="272" y1="478" x2="273.54" y2="478" stroke="#ff2a20" stroke-width="0.8"/>
<line x1="272" y1="462.12" x2="273.54" y2="462.12" stroke="#ff2a20" stroke-width="0.8"/>
<line x1="272" y1="446.24" x2="273.54" y2="446.24" stroke="#ff2a20" stroke-width="0.8"/>
<line x1="311.4" y1="613" x2="314.2" y2="613" stroke="#4eb0f6" stroke-width="0.9"/>
<text class="s" x="317.3" y="616.4" font-size="10" fill="#55b5f5">1</text>
<line x1="311.4" y1="578.06" x2="314.2" y2="578.06" stroke="#4eb0f6" stroke-width="0.9"/>
<text class="s" x="317.3" y="581.46" font-size="10" fill="#55b5f5">2</text>
<line x1="311.4" y1="543.12" x2="314.2" y2="543.12" stroke="#4eb0f6" stroke-width="0.9"/>
<text class="s" x="317.3" y="546.52" font-size="10" fill="#55b5f5">3</text>
<line x1="311.4" y1="508.18" x2="314.2" y2="508.18" stroke="#4eb0f6" stroke-width="0.9"/>
<text class="s" x="317.3" y="511.58" font-size="10" fill="#55b5f5">4</text>
<line x1="311.4" y1="473.24" x2="314.2" y2="473.24" stroke="#4eb0f6" stroke-width="0.9"/>
<text class="s" x="317.3" y="476.64" font-size="10" fill="#55b5f5">5</text>
<line x1="311.4" y1="438.3" x2="314.2" y2="438.3" stroke="#4eb0f6" stroke-width="0.9"/>
<text class="s" x="317.3" y="441.7" font-size="10" fill="#55b5f5">6</text>
<line x1="311.4" y1="595.53" x2="312.94" y2="595.53" stroke="#4eb0f6" stroke-width="0.8"/>
<line x1="311.4" y1="560.59" x2="312.94" y2="560.59" stroke="#4eb0f6" stroke-width="0.8"/>
<line x1="311.4" y1="525.65" x2="312.94" y2="525.65" stroke="#4eb0f6" stroke-width="0.8"/>
<line x1="311.4" y1="490.71" x2="312.94" y2="490.71" stroke="#4eb0f6" stroke-width="0.8"/>
<line x1="311.4" y1="455.77" x2="312.94" y2="455.77" stroke="#4eb0f6" stroke-width="0.8"/>
<text class="s" x="18.4" y="521.3" font-size="10" text-anchor="middle" fill="#e8854a" transform="rotate(-90 18.4 521.3)">Temperature of&#160; cold side (K)</text>
<text class="s" x="302.3" y="520.4" font-size="10" text-anchor="middle" fill="#ff3030" transform="rotate(-90 302.3 520.4)">Open circuit voltage (mV)</text>
<text class="s" x="333.5" y="517.3" font-size="10" text-anchor="middle" fill="#55b5f5" transform="rotate(-90 333.5 517.3)">Maximum output power (&#956;W)</text>
<text class="s" x="87.2" y="641" font-size="10.05">Length of Ag<tspan font-size="6.63" dy="2.21">2.3</tspan><tspan dy="-2.21">Se-SPS200</tspan><tspan font-size="6.63" dy="-3.62">o</tspan><tspan dy="3.62">C/5min</tspan></text>
<path d="M64.97 450.2 C66.78 455.22 72.22 470.77 75.84 480.3 C79.46 489.83 83.09 499.32 86.71 507.4 C90.33 515.48 93.96 522.3 97.58 528.8 C101.2 535.3 104.83 541.17 108.45 546.4 C112.07 551.63 115.7 556.23 119.32 560.2 C122.94 564.17 126.57 567.23 130.19 570.2 C133.81 573.17 137.44 575.65 141.06 578 C144.68 580.35 148.31 582.53 151.93 584.3 C155.55 586.07 159.18 587.35 162.8 588.6 C166.42 589.85 170.05 590.88 173.67 591.8 C177.29 592.72 180.92 593.38 184.54 594.1 C188.16 594.82 191.79 595.47 195.41 596.1 C199.03 596.73 202.66 597.43 206.28 597.9 C209.9 598.37 213.53 598.62 217.15 598.9 C220.77 599.18 224.4 599.4 228.02 599.6 C231.64 599.8 235.27 599.97 238.89 600.1 C242.51 600.23 247.95 600.35 249.76 600.4" fill="none" stroke="#e07a30" stroke-width="1.3" stroke-dasharray="6 4"/>
<rect x="62.59" y="447.82" width="4.75" height="4.75" fill="#fff" stroke="#e07a30" stroke-width="0.9"/><rect x="62.59" y="447.82" width="4.75" height="2.38" fill="#e07a30"/>
<rect x="73.47" y="477.93" width="4.75" height="4.75" fill="#fff" stroke="#e07a30" stroke-width="0.9"/><rect x="73.47" y="477.93" width="4.75" height="2.38" fill="#e07a30"/>
<rect x="84.34" y="505.02" width="4.75" height="4.75" fill="#fff" stroke="#e07a30" stroke-width="0.9"/><rect x="84.34" y="505.02" width="4.75" height="2.38" fill="#e07a30"/>
<rect x="95.2" y="526.42" width="4.75" height="4.75" fill="#fff" stroke="#e07a30" stroke-width="0.9"/><rect x="95.2" y="526.42" width="4.75" height="2.38" fill="#e07a30"/>
<rect x="106.07" y="544.02" width="4.75" height="4.75" fill="#fff" stroke="#e07a30" stroke-width="0.9"/><rect x="106.07" y="544.02" width="4.75" height="2.38" fill="#e07a30"/>
<rect x="116.94" y="557.83" width="4.75" height="4.75" fill="#fff" stroke="#e07a30" stroke-width="0.9"/><rect x="116.94" y="557.83" width="4.75" height="2.38" fill="#e07a30"/>
<rect x="127.81" y="567.83" width="4.75" height="4.75" fill="#fff" stroke="#e07a30" stroke-width="0.9"/><rect x="127.81" y="567.83" width="4.75" height="2.38" fill="#e07a30"/>
<rect x="138.69" y="575.62" width="4.75" height="4.75" fill="#fff" stroke="#e07a30" stroke-width="0.9"/><rect x="138.69" y="575.62" width="4.75" height="2.38" fill="#e07a30"/>
<rect x="149.56" y="581.92" width="4.75" height="4.75" fill="#fff" stroke="#e07a30" stroke-width="0.9"/><rect x="149.56" y="581.92" width="4.75" height="2.38" fill="#e07a30"/>
<rect x="160.42" y="586.23" width="4.75" height="4.75" fill="#fff" stroke="#e07a30" stroke-width="0.9"/><rect x="160.42" y="586.23" width="4.75" height="2.38" fill="#e07a30"/>
<rect x="171.29" y="589.42" width="4.75" height="4.75" fill="#fff" stroke="#e07a30" stroke-width="0.9"/><rect x="171.29" y="589.42" width="4.75" height="2.38" fill="#e07a30"/>
<rect x="182.16" y="591.73" width="4.75" height="4.75" fill="#fff" stroke="#e07a30" stroke-width="0.9"/><rect x="182.16" y="591.73" width="4.75" height="2.38" fill="#e07a30"/>
<rect x="193.03" y="593.73" width="4.75" height="4.75" fill="#fff" stroke="#e07a30" stroke-width="0.9"/><rect x="193.03" y="593.73" width="4.75" height="2.38" fill="#e07a30"/>
<rect x="203.9" y="595.52" width="4.75" height="4.75" fill="#fff" stroke="#e07a30" stroke-width="0.9"/><rect x="203.9" y="595.52" width="4.75" height="2.38" fill="#e07a30"/>
<rect x="214.77" y="596.52" width="4.75" height="4.75" fill="#fff" stroke="#e07a30" stroke-width="0.9"/><rect x="214.77" y="596.52" width="4.75" height="2.38" fill="#e07a30"/>
<rect x="225.64" y="597.23" width="4.75" height="4.75" fill="#fff" stroke="#e07a30" stroke-width="0.9"/><rect x="225.64" y="597.23" width="4.75" height="2.38" fill="#e07a30"/>
<rect x="236.51" y="597.73" width="4.75" height="4.75" fill="#fff" stroke="#e07a30" stroke-width="0.9"/><rect x="236.51" y="597.73" width="4.75" height="2.38" fill="#e07a30"/>
<rect x="247.38" y="598.02" width="4.75" height="4.75" fill="#fff" stroke="#e07a30" stroke-width="0.9"/><rect x="247.38" y="598.02" width="4.75" height="2.38" fill="#e07a30"/>
<path d="M64.97 603.6 C66.78 594.35 72.22 564.75 75.84 548.1 C79.46 531.45 83.09 516.05 86.71 503.7 C90.33 491.35 93.96 481.47 97.58 474 C101.2 466.53 104.83 462.45 108.45 458.9 C112.07 455.35 115.7 453.65 119.32 452.7 C122.94 451.75 126.57 452.25 130.19 453.2 C133.81 454.15 137.44 456.4 141.06 458.4 C144.68 460.4 148.31 462.68 151.93 465.2 C155.55 467.72 159.18 470.65 162.8 473.5 C166.42 476.35 170.05 479.2 173.67 482.3 C177.29 485.4 180.92 489.08 184.54 492.1 C188.16 495.12 191.79 497.68 195.41 500.4 C199.03 503.12 202.66 505.85 206.28 508.4 C209.9 510.95 213.53 513.38 217.15 515.7 C220.77 518.02 224.4 520.15 228.02 522.3 C231.64 524.45 235.27 526.62 238.89 528.6 C242.51 530.58 247.95 533.27 249.76 534.2" fill="none" stroke="#4eb0f6" stroke-width="1.3" stroke-dasharray="6 4"/>
<polygon points="64.97,600.23 62.03,605.62 67.91,605.62" fill="#fff" stroke="#4eb0f6" stroke-width="0.9"/><polygon points="64.97,600.23 64.97,605.62 67.91,605.62" fill="#4eb0f6"/>
<polygon points="75.84,544.73 72.9,550.12 78.78,550.12" fill="#fff" stroke="#4eb0f6" stroke-width="0.9"/><polygon points="75.84,544.73 75.84,550.12 78.78,550.12" fill="#4eb0f6"/>
<polygon points="86.71,500.32 83.77,505.72 89.65,505.72" fill="#fff" stroke="#4eb0f6" stroke-width="0.9"/><polygon points="86.71,500.32 86.71,505.72 89.65,505.72" fill="#4eb0f6"/>
<polygon points="97.58,470.62 94.64,476.02 100.52,476.02" fill="#fff" stroke="#4eb0f6" stroke-width="0.9"/><polygon points="97.58,470.62 97.58,476.02 100.52,476.02" fill="#4eb0f6"/>
<polygon points="108.45,455.52 105.51,460.92 111.39,460.92" fill="#fff" stroke="#4eb0f6" stroke-width="0.9"/><polygon points="108.45,455.52 108.45,460.92 111.39,460.92" fill="#4eb0f6"/>
<polygon points="119.32,449.32 116.38,454.72 122.26,454.72" fill="#fff" stroke="#4eb0f6" stroke-width="0.9"/><polygon points="119.32,449.32 119.32,454.72 122.26,454.72" fill="#4eb0f6"/>
<polygon points="130.19,449.82 127.25,455.22 133.13,455.22" fill="#fff" stroke="#4eb0f6" stroke-width="0.9"/><polygon points="130.19,449.82 130.19,455.22 133.13,455.22" fill="#4eb0f6"/>
<polygon points="141.06,455.02 138.12,460.42 144,460.42" fill="#fff" stroke="#4eb0f6" stroke-width="0.9"/><polygon points="141.06,455.02 141.06,460.42 144,460.42" fill="#4eb0f6"/>
<polygon points="151.93,461.82 148.99,467.22 154.87,467.22" fill="#fff" stroke="#4eb0f6" stroke-width="0.9"/><polygon points="151.93,461.82 151.93,467.22 154.87,467.22" fill="#4eb0f6"/>
<polygon points="162.8,470.12 159.86,475.52 165.74,475.52" fill="#fff" stroke="#4eb0f6" stroke-width="0.9"/><polygon points="162.8,470.12 162.8,475.52 165.74,475.52" fill="#4eb0f6"/>
<polygon points="173.67,478.93 170.73,484.32 176.61,484.32" fill="#fff" stroke="#4eb0f6" stroke-width="0.9"/><polygon points="173.67,478.93 173.67,484.32 176.61,484.32" fill="#4eb0f6"/>
<polygon points="184.54,488.73 181.6,494.12 187.48,494.12" fill="#fff" stroke="#4eb0f6" stroke-width="0.9"/><polygon points="184.54,488.73 184.54,494.12 187.48,494.12" fill="#4eb0f6"/>
<polygon points="195.41,497.02 192.47,502.42 198.35,502.42" fill="#fff" stroke="#4eb0f6" stroke-width="0.9"/><polygon points="195.41,497.02 195.41,502.42 198.35,502.42" fill="#4eb0f6"/>
<polygon points="206.28,505.02 203.34,510.42 209.22,510.42" fill="#fff" stroke="#4eb0f6" stroke-width="0.9"/><polygon points="206.28,505.02 206.28,510.42 209.22,510.42" fill="#4eb0f6"/>
<polygon points="217.15,512.33 214.21,517.73 220.09,517.73" fill="#fff" stroke="#4eb0f6" stroke-width="0.9"/><polygon points="217.15,512.33 217.15,517.73 220.09,517.73" fill="#4eb0f6"/>
<polygon points="228.02,518.92 225.08,524.32 230.96,524.32" fill="#fff" stroke="#4eb0f6" stroke-width="0.9"/><polygon points="228.02,518.92 228.02,524.32 230.96,524.32" fill="#4eb0f6"/>
<polygon points="238.89,525.23 235.95,530.62 241.83,530.62" fill="#fff" stroke="#4eb0f6" stroke-width="0.9"/><polygon points="238.89,525.23 238.89,530.62 241.83,530.62" fill="#4eb0f6"/>
<polygon points="249.76,530.83 246.82,536.23 252.7,536.23" fill="#fff" stroke="#4eb0f6" stroke-width="0.9"/><polygon points="249.76,530.83 249.76,536.23 252.7,536.23" fill="#4eb0f6"/>
<path d="M64.97 597.9 C66.78 592.78 72.22 576.55 75.84 567.2 C79.46 557.85 83.09 549.88 86.71 541.8 C90.33 533.72 93.96 525.38 97.58 518.7 C101.2 512.02 104.83 506.85 108.45 501.7 C112.07 496.55 115.7 491.7 119.32 487.8 C122.94 483.9 126.57 481.22 130.19 478.3 C133.81 475.38 137.44 472.65 141.06 470.3 C144.68 467.95 148.31 465.97 151.93 464.2 C155.55 462.43 159.18 460.92 162.8 459.7 C166.42 458.48 170.05 457.87 173.67 456.9 C177.29 455.93 180.92 454.68 184.54 453.9 C188.16 453.12 191.79 452.7 195.41 452.2 C199.03 451.7 202.66 451.33 206.28 450.9 C209.9 450.47 213.53 449.93 217.15 449.6 C220.77 449.27 224.4 449.15 228.02 448.9 C231.64 448.65 235.27 448.32 238.89 448.1 C242.51 447.88 247.95 447.68 249.76 447.6" fill="none" stroke="#ff2a20" stroke-width="1.3" stroke-dasharray="6 4"/>
<circle cx="64.97" cy="597.9" r="2.62" fill="#fff" stroke="#ff2a20" stroke-width="0.9"/><path d="M62.34 597.9 A2.62 2.62 0 0 1 67.59 597.9 Z" fill="#ff2a20"/>
<circle cx="75.84" cy="567.2" r="2.62" fill="#fff" stroke="#ff2a20" stroke-width="0.9"/><path d="M73.22 567.2 A2.62 2.62 0 0 1 78.47 567.2 Z" fill="#ff2a20"/>
<circle cx="86.71" cy="541.8" r="2.62" fill="#fff" stroke="#ff2a20" stroke-width="0.9"/><path d="M84.09 541.8 A2.62 2.62 0 0 1 89.34 541.8 Z" fill="#ff2a20"/>
<circle cx="97.58" cy="518.7" r="2.62" fill="#fff" stroke="#ff2a20" stroke-width="0.9"/><path d="M94.95 518.7 A2.62 2.62 0 0 1 100.2 518.7 Z" fill="#ff2a20"/>
<circle cx="108.45" cy="501.7" r="2.62" fill="#fff" stroke="#ff2a20" stroke-width="0.9"/><path d="M105.82 501.7 A2.62 2.62 0 0 1 111.07 501.7 Z" fill="#ff2a20"/>
<circle cx="119.32" cy="487.8" r="2.62" fill="#fff" stroke="#ff2a20" stroke-width="0.9"/><path d="M116.69 487.8 A2.62 2.62 0 0 1 121.94 487.8 Z" fill="#ff2a20"/>
<circle cx="130.19" cy="478.3" r="2.62" fill="#fff" stroke="#ff2a20" stroke-width="0.9"/><path d="M127.56 478.3 A2.62 2.62 0 0 1 132.81 478.3 Z" fill="#ff2a20"/>
<circle cx="141.06" cy="470.3" r="2.62" fill="#fff" stroke="#ff2a20" stroke-width="0.9"/><path d="M138.44 470.3 A2.62 2.62 0 0 1 143.69 470.3 Z" fill="#ff2a20"/>
<circle cx="151.93" cy="464.2" r="2.62" fill="#fff" stroke="#ff2a20" stroke-width="0.9"/><path d="M149.31 464.2 A2.62 2.62 0 0 1 154.56 464.2 Z" fill="#ff2a20"/>
<circle cx="162.8" cy="459.7" r="2.62" fill="#fff" stroke="#ff2a20" stroke-width="0.9"/><path d="M160.17 459.7 A2.62 2.62 0 0 1 165.42 459.7 Z" fill="#ff2a20"/>
<circle cx="173.67" cy="456.9" r="2.62" fill="#fff" stroke="#ff2a20" stroke-width="0.9"/><path d="M171.04 456.9 A2.62 2.62 0 0 1 176.29 456.9 Z" fill="#ff2a20"/>
<circle cx="184.54" cy="453.9" r="2.62" fill="#fff" stroke="#ff2a20" stroke-width="0.9"/><path d="M181.91 453.9 A2.62 2.62 0 0 1 187.16 453.9 Z" fill="#ff2a20"/>
<circle cx="195.41" cy="452.2" r="2.62" fill="#fff" stroke="#ff2a20" stroke-width="0.9"/><path d="M192.78 452.2 A2.62 2.62 0 0 1 198.03 452.2 Z" fill="#ff2a20"/>
<circle cx="206.28" cy="450.9" r="2.62" fill="#fff" stroke="#ff2a20" stroke-width="0.9"/><path d="M203.65 450.9 A2.62 2.62 0 0 1 208.9 450.9 Z" fill="#ff2a20"/>
<circle cx="217.15" cy="449.6" r="2.62" fill="#fff" stroke="#ff2a20" stroke-width="0.9"/><path d="M214.52 449.6 A2.62 2.62 0 0 1 219.77 449.6 Z" fill="#ff2a20"/>
<circle cx="228.02" cy="448.9" r="2.62" fill="#fff" stroke="#ff2a20" stroke-width="0.9"/><path d="M225.39 448.9 A2.62 2.62 0 0 1 230.64 448.9 Z" fill="#ff2a20"/>
<circle cx="238.89" cy="448.1" r="2.62" fill="#fff" stroke="#ff2a20" stroke-width="0.9"/><path d="M236.26 448.1 A2.62 2.62 0 0 1 241.51 448.1 Z" fill="#ff2a20"/>
<circle cx="249.76" cy="447.6" r="2.62" fill="#fff" stroke="#ff2a20" stroke-width="0.9"/><path d="M247.13 447.6 A2.62 2.62 0 0 1 252.38 447.6 Z" fill="#ff2a20"/>
<text class="s" x="3.2" y="442.2" font-size="19.5" font-weight="bold">d</text>
</g>
<g id="panel_ce">
<defs><linearGradient id="bgc" x1="0" y1="0" x2="0" y2="1"><stop offset="0" stop-color="#f9fafd"/><stop offset="0.5" stop-color="#f1f5fb"/><stop offset="1" stop-color="#e6f0fa"/></linearGradient>
<linearGradient id="barc" x1="0" y1="0" x2="1" y2="0"><stop offset="0" stop-color="#00008c"/><stop offset="0.1" stop-color="#0000ff"/><stop offset="0.36" stop-color="#00d0ff"/><stop offset="0.5" stop-color="#60ffa0"/><stop offset="0.64" stop-color="#f0f000"/><stop offset="0.78" stop-color="#ff8000"/><stop offset="0.9" stop-color="#ff1000"/><stop offset="1" stop-color="#e00000"/></linearGradient></defs>
<rect x="354.4" y="224.4" width="318.8" height="203.8" fill="url(#bgc)"/>
<line x1="396.1" y1="282.6" x2="485.7" y2="251.7" stroke="#bdbdbd" stroke-width="1.5"/>
<polygon points="492.15,252.85 493.25,251.35 634.3,343.9 633.7,344.7" fill="#bdbdbd"/>
<line x1="398.1" y1="289.6" x2="533.6" y2="389" stroke="#d4d6da" stroke-width="0.8"/>
<line x1="533.6" y1="389" x2="629.5" y2="348.8" stroke="#d4d6da" stroke-width="0.8"/>
<line x1="533.6" y1="383.4" x2="535.1" y2="388.9" stroke="#d4d6da" stroke-width="0.7"/>
<line x1="552.48" y1="375.48" x2="553.98" y2="380.98" stroke="#d4d6da" stroke-width="0.7"/>
<line x1="571.36" y1="367.56" x2="572.86" y2="373.06" stroke="#d4d6da" stroke-width="0.7"/>
<line x1="590.24" y1="359.64" x2="591.74" y2="365.14" stroke="#d4d6da" stroke-width="0.7"/>
<line x1="609.12" y1="351.72" x2="610.62" y2="357.22" stroke="#d4d6da" stroke-width="0.7"/>
<line x1="628" y1="343.8" x2="629.5" y2="349.3" stroke="#d4d6da" stroke-width="0.7"/>
<line x1="533.6" y1="383.4" x2="531.1" y2="386.6" stroke="#d4d6da" stroke-width="0.6"/>
<line x1="518.66" y1="372.47" x2="516.16" y2="375.67" stroke="#d4d6da" stroke-width="0.6"/>
<line x1="503.71" y1="361.53" x2="501.21" y2="364.73" stroke="#d4d6da" stroke-width="0.6"/>
<line x1="488.77" y1="350.6" x2="486.27" y2="353.8" stroke="#d4d6da" stroke-width="0.6"/>
<line x1="473.82" y1="339.67" x2="471.32" y2="342.87" stroke="#d4d6da" stroke-width="0.6"/>
<line x1="458.88" y1="328.73" x2="456.38" y2="331.93" stroke="#d4d6da" stroke-width="0.6"/>
<line x1="443.93" y1="317.8" x2="441.43" y2="321" stroke="#d4d6da" stroke-width="0.6"/>
<line x1="428.99" y1="306.87" x2="426.49" y2="310.07" stroke="#d4d6da" stroke-width="0.6"/>
<line x1="414.04" y1="295.93" x2="411.54" y2="299.13" stroke="#d4d6da" stroke-width="0.6"/>
<line x1="399.1" y1="285" x2="396.6" y2="288.2" stroke="#d4d6da" stroke-width="0.6"/>
<mask id="cpc" maskUnits="userSpaceOnUse" x="394.1" y="249.1" width="238.9" height="139.3"><polygon points="399.1,285 487.7,254.1 628,343.8 533.6,383.4" fill="#fff"/></mask><g mask="url(#cpc)">
<polygon points="387.96,281.6 485.1,248.09 639.75,346.28 535.59,390.32" fill="#1c00ff"/>
<polygon points="395.79,287.37 493.3,253.3 639.75,346.28 535.59,390.32" fill="#1c00ff"/>
<polygon points="396.91,288.19 494.47,254.04 639.75,346.28 535.59,390.32" fill="#1c00ff"/>
<polygon points="398.03,289.02 495.64,254.79 639.75,346.28 535.59,390.32" fill="#1c00ff"/>
<polygon points="399.14,289.84 496.82,255.53 639.75,346.28 535.59,390.32" fill="#1c00ff"/>
<polygon points="400.26,290.66 497.99,256.27 639.75,346.28 535.59,390.32" fill="#1d00ff"/>
<polygon points="401.38,291.49 499.16,257.02 639.75,346.28 535.59,390.32" fill="#1d00ff"/>
<polygon points="402.5,292.31 500.33,257.76 639.75,346.28 535.59,390.32" fill="#1d00ff"/>
<polygon points="403.62,293.13 501.5,258.51 639.75,346.28 535.59,390.32" fill="#1d00ff"/>
<polygon points="404.74,293.96 502.67,259.25 639.75,346.28 535.59,390.32" fill="#1d00ff"/>
<polygon points="405.85,294.78 503.85,259.99 639.75,346.28 535.59,390.32" fill="#1d00ff"/>
<polygon points="406.97,295.6 505.02,260.74 639.75,346.28 535.59,390.32" fill="#1d00ff"/>
<polygon points="408.09,296.43 506.19,261.48 639.75,346.28 535.59,390.32" fill="#1d00ff"/>
<polygon points="409.21,297.25 507.36,262.23 639.75,346.28 535.59,390.32" fill="#1d00ff"/>
<polygon points="410.33,298.08 508.53,262.97 639.75,346.28 535.59,390.32" fill="#1d00ff"/>
<polygon points="411.45,298.9 509.7,263.71 639.75,346.28 535.59,390.32" fill="#1d00ff"/>
<polygon points="412.56,299.72 510.88,264.46 639.75,346.28 535.59,390.32" fill="#1e00ff"/>
<polygon points="413.68,300.55 512.05,265.2 639.75,346.28 535.59,390.32" fill="#1e00ff"/>
<polygon points="414.8,301.37 513.22,265.94 639.75,346.28 535.59,390.32" fill="#1e00ff"/>
<polygon points="415.92,302.19 514.39,266.69 639.75,346.28 535.59,390.32" fill="#1e00ff"/>
<polygon points="417.04,303.02 515.56,267.43 639.75,346.28 535.59,390.32" fill="#1e00ff"/>
<polygon points="418.16,303.84 516.73,268.18 639.75,346.28 535.59,390.32" fill="#1e00ff"/>
<polygon points="419.28,304.66 517.9,268.92 639.75,346.28 535.59,390.32" fill="#1f02ff"/>
<polygon points="420.39,305.49 519.08,269.66 639.75,346.28 535.59,390.32" fill="#1f05fe"/>
<polygon points="421.51,306.31 520.25,270.41 639.75,346.28 535.59,390.32" fill="#2007fe"/>
<polygon points="422.63,307.14 521.42,271.15 639.75,346.28 535.59,390.32" fill="#2109fe"/>
<polygon points="423.75,307.96 522.59,271.9 639.75,346.28 535.59,390.32" fill="#220cfd"/>
<polygon points="424.87,308.78 523.76,272.64 639.75,346.28 535.59,390.32" fill="#220efd"/>
<polygon points="425.99,309.61 524.93,273.38 639.75,346.28 535.59,390.32" fill="#2310fd"/>
<polygon points="427.1,310.43 526.11,274.13 639.75,346.28 535.59,390.32" fill="#2413fc"/>
<polygon points="428.22,311.25 527.28,274.87 639.75,346.28 535.59,390.32" fill="#2517fb"/>
<polygon points="429.34,312.08 528.45,275.62 639.75,346.28 535.59,390.32" fill="#261dfa"/>
<polygon points="430.46,312.9 529.62,276.36 639.75,346.28 535.59,390.32" fill="#2823f9"/>
<polygon points="431.58,313.72 530.79,277.1 639.75,346.28 535.59,390.32" fill="#2a29f7"/>
<polygon points="432.7,314.55 531.96,277.85 639.75,346.28 535.59,390.32" fill="#2c2ff6"/>
<polygon points="433.81,315.37 533.14,278.59 639.75,346.28 535.59,390.32" fill="#2d36f4"/>
<polygon points="434.93,316.2 534.31,279.33 639.75,346.28 535.59,390.32" fill="#2f3cf3"/>
<polygon points="436.05,317.02 535.48,280.08 639.75,346.28 535.59,390.32" fill="#3041f2"/>
<polygon points="437.17,317.84 536.65,280.82 639.75,346.28 535.59,390.32" fill="#3246f1"/>
<polygon points="438.29,318.67 537.82,281.57 639.75,346.28 535.59,390.32" fill="#344bf1"/>
<polygon points="439.41,319.49 538.99,282.31 639.75,346.28 535.59,390.32" fill="#3650f0"/>
<polygon points="440.53,320.31 540.16,283.05 639.75,346.28 535.59,390.32" fill="#3754f0"/>
<polygon points="441.64,321.14 541.34,283.8 639.75,346.28 535.59,390.32" fill="#3959ef"/>
<polygon points="442.76,321.96 542.51,284.54 639.75,346.28 535.59,390.32" fill="#3a5eee"/>
<polygon points="443.88,322.78 543.68,285.29 639.75,346.28 535.59,390.32" fill="#3c63ee"/>
<polygon points="445,323.61 544.85,286.03 639.75,346.28 535.59,390.32" fill="#3f6aed"/>
<polygon points="446.12,324.43 546.02,286.77 639.75,346.28 535.59,390.32" fill="#4171ec"/>
<polygon points="447.24,325.26 547.19,287.52 639.75,346.28 535.59,390.32" fill="#4378eb"/>
<polygon points="448.35,326.08 548.37,288.26 639.75,346.28 535.59,390.32" fill="#467fea"/>
<polygon points="449.47,326.9 549.54,289 639.75,346.28 535.59,390.32" fill="#4886e9"/>
<polygon points="450.59,327.73 550.71,289.75 639.75,346.28 535.59,390.32" fill="#4a8de8"/>
<polygon points="451.71,328.55 551.88,290.49 639.75,346.28 535.59,390.32" fill="#4b95e8"/>
<polygon points="452.83,329.37 553.05,291.24 639.75,346.28 535.59,390.32" fill="#4c9de9"/>
<polygon points="453.95,330.2 554.22,291.98 639.75,346.28 535.59,390.32" fill="#4da5e9"/>
<polygon points="455.06,331.02 555.4,292.72 639.75,346.28 535.59,390.32" fill="#4eade9"/>
<polygon points="456.18,331.84 556.57,293.47 639.75,346.28 535.59,390.32" fill="#4fb5ea"/>
<polygon points="457.3,332.67 557.74,294.21 639.75,346.28 535.59,390.32" fill="#50bdea"/>
<polygon points="458.42,333.49 558.91,294.96 639.75,346.28 535.59,390.32" fill="#53cbeb"/>
<polygon points="459.54,334.32 560.08,295.7 639.75,346.28 535.59,390.32" fill="#56d8eb"/>
<polygon points="460.66,335.14 561.25,296.44 639.75,346.28 535.59,390.32" fill="#59e5ec"/>
<polygon points="461.77,335.96 562.42,297.19 639.75,346.28 535.59,390.32" fill="#5beeea"/>
<polygon points="462.89,336.79 563.6,297.93 639.75,346.28 535.59,390.32" fill="#5df1e7"/>
<polygon points="464.01,337.61 564.77,298.68 639.75,346.28 535.59,390.32" fill="#5ff4e4"/>
<polygon points="465.13,338.43 565.94,299.42 639.75,346.28 535.59,390.32" fill="#63f5dc"/>
<polygon points="466.25,339.26 567.11,300.16 639.75,346.28 535.59,390.32" fill="#68f4d1"/>
<polygon points="467.37,340.08 568.28,300.91 639.75,346.28 535.59,390.32" fill="#6ef3c6"/>
<polygon points="468.49,340.9 569.45,301.65 639.75,346.28 535.59,390.32" fill="#74f1b9"/>
<polygon points="469.6,341.73 570.63,302.39 639.75,346.28 535.59,390.32" fill="#7defa7"/>
<polygon points="470.72,342.55 571.8,303.14 639.75,346.28 535.59,390.32" fill="#86ed95"/>
<polygon points="471.84,343.38 572.97,303.88 639.75,346.28 535.59,390.32" fill="#8fea83"/>
<polygon points="472.96,344.2 574.14,304.63 639.75,346.28 535.59,390.32" fill="#97e871"/>
<polygon points="474.08,345.02 575.31,305.37 639.75,346.28 535.59,390.32" fill="#a0e766"/>
<polygon points="475.2,345.85 576.48,306.11 639.75,346.28 535.59,390.32" fill="#a9e55c"/>
<polygon points="476.31,346.67 577.66,306.86 639.75,346.28 535.59,390.32" fill="#b2e452"/>
<polygon points="477.43,347.49 578.83,307.6 639.75,346.28 535.59,390.32" fill="#bbe247"/>
<polygon points="478.55,348.32 580,308.35 639.75,346.28 535.59,390.32" fill="#c4e13d"/>
<polygon points="479.67,349.14 581.17,309.09 639.75,346.28 535.59,390.32" fill="#ccdf37"/>
<polygon points="480.79,349.96 582.34,309.83 639.75,346.28 535.59,390.32" fill="#d3dd35"/>
<polygon points="481.91,350.79 583.51,310.58 639.75,346.28 535.59,390.32" fill="#d9dc34"/>
<polygon points="483.02,351.61 584.69,311.32 639.75,346.28 535.59,390.32" fill="#e0da32"/>
<polygon points="484.14,352.44 585.86,312.06 639.75,346.28 535.59,390.32" fill="#e7d830"/>
<polygon points="485.26,353.26 587.03,312.81 639.75,346.28 535.59,390.32" fill="#e8cd2e"/>
<polygon points="486.38,354.08 588.2,313.55 639.75,346.28 535.59,390.32" fill="#e8c02d"/>
<polygon points="487.5,354.91 589.37,314.3 639.75,346.28 535.59,390.32" fill="#e8b32b"/>
<polygon points="488.62,355.73 590.54,315.04 639.75,346.28 535.59,390.32" fill="#e8a629"/>
<polygon points="489.74,356.55 591.71,315.78 639.75,346.28 535.59,390.32" fill="#e79827"/>
<polygon points="490.85,357.38 592.89,316.53 639.75,346.28 535.59,390.32" fill="#e58825"/>
<polygon points="491.97,358.2 594.06,317.27 639.75,346.28 535.59,390.32" fill="#e37823"/>
<polygon points="493.09,359.02 595.23,318.02 639.75,346.28 535.59,390.32" fill="#e16821"/>
<polygon points="494.21,359.85 596.4,318.76 639.75,346.28 535.59,390.32" fill="#df5a1f"/>
<polygon points="495.33,360.67 597.57,319.5 639.75,346.28 535.59,390.32" fill="#de4d1d"/>
<polygon points="496.45,361.49 598.74,320.25 639.75,346.28 535.59,390.32" fill="#dd3f1b"/>
<polygon points="497.56,362.32 599.92,320.99 639.75,346.28 535.59,390.32" fill="#dc3218"/>
<polygon points="498.68,363.14 601.09,321.74 639.75,346.28 535.59,390.32" fill="#dc2b18"/>
<polygon points="499.8,363.97 602.26,322.48 639.75,346.28 535.59,390.32" fill="#dc2618"/>
<polygon points="500.92,364.79 603.43,323.22 639.75,346.28 535.59,390.32" fill="#dc2418"/>
<polygon points="502.04,365.61 604.6,323.97 639.75,346.28 535.59,390.32" fill="#dc2418"/>
<polygon points="503.16,366.44 605.77,324.71 639.75,346.28 535.59,390.32" fill="#dc2418"/>
<polygon points="504.27,367.26 606.95,325.45 639.75,346.28 535.59,390.32" fill="#db2418"/>
<polygon points="505.39,368.08 608.12,326.2 639.75,346.28 535.59,390.32" fill="#db2418"/>
<polygon points="506.51,368.91 609.29,326.94 639.75,346.28 535.59,390.32" fill="#db2418"/>
<polygon points="507.63,369.73 610.46,327.69 639.75,346.28 535.59,390.32" fill="#db2417"/>
<polygon points="508.75,370.55 611.63,328.43 639.75,346.28 535.59,390.32" fill="#db2417"/>
<polygon points="509.87,371.38 612.8,329.17 639.75,346.28 535.59,390.32" fill="#db2417"/>
<polygon points="510.99,372.2 613.97,329.92 639.75,346.28 535.59,390.32" fill="#da2417"/>
<polygon points="512.1,373.03 615.15,330.66 639.75,346.28 535.59,390.32" fill="#da2417"/>
<polygon points="513.22,373.85 616.32,331.41 639.75,346.28 535.59,390.32" fill="#da2417"/>
<polygon points="514.34,374.67 617.49,332.15 639.75,346.28 535.59,390.32" fill="#da2417"/>
<polygon points="515.46,375.5 618.66,332.89 639.75,346.28 535.59,390.32" fill="#da2417"/>
<polygon points="516.58,376.32 619.83,333.64 639.75,346.28 535.59,390.32" fill="#da2417"/>
<polygon points="517.7,377.14 621,334.38 639.75,346.28 535.59,390.32" fill="#da2417"/>
<polygon points="518.81,377.97 622.18,335.13 639.75,346.28 535.59,390.32" fill="#d92417"/>
<polygon points="519.93,378.79 623.35,335.87 639.75,346.28 535.59,390.32" fill="#d92417"/>
<polygon points="521.05,379.61 624.52,336.61 639.75,346.28 535.59,390.32" fill="#d92417"/>
<polygon points="522.17,380.44 625.69,337.36 639.75,346.28 535.59,390.32" fill="#d92416"/>
<polygon points="523.29,381.26 626.86,338.1 639.75,346.28 535.59,390.32" fill="#d92416"/>
<polygon points="524.41,382.09 628.03,338.84 639.75,346.28 535.59,390.32" fill="#d92416"/>
<polygon points="525.52,382.91 629.21,339.59 639.75,346.28 535.59,390.32" fill="#d82416"/>
<polygon points="526.64,383.73 630.38,340.33 639.75,346.28 535.59,390.32" fill="#d82416"/>
<polygon points="527.76,384.56 631.55,341.08 639.75,346.28 535.59,390.32" fill="#d82416"/>
</g>
<line x1="423.31" y1="302.71" x2="512.95" y2="270.25" stroke="#14148c" stroke-width="0.55" opacity="0.8"/>
<line x1="504.01" y1="361.75" x2="597.13" y2="324.07" stroke="#5a1408" stroke-width="0.55" opacity="0.8"/>
<line x1="472.2" y1="287.3" x2="581.4" y2="361.7" stroke="#ffffe0" stroke-width="0.45" opacity="0.14"/>
<line x1="497" y1="304.2" x2="552" y2="341.7" stroke="#ffffd0" stroke-width="0.5" opacity="0.3"/>
<text class="n" transform="translate(520.1 266.5) scale(1 1)" font-size="6.9" fill="#1c1c1c" text-anchor="middle">8</text>
<text class="n" transform="translate(546.7 283.7) scale(1 1)" font-size="6.9" fill="#1c1c1c" text-anchor="middle">6</text>
<text class="n" transform="translate(574.9 301.9) scale(1 1)" font-size="6.9" fill="#1c1c1c" text-anchor="middle">4</text>
<text class="n" transform="translate(603.5 320.1) scale(1 1)" font-size="6.9" fill="#1c1c1c" text-anchor="middle">2</text>
<text class="n" transform="translate(634.3 339.9) scale(1 1)" font-size="6.9" fill="#1c1c1c" text-anchor="middle">0</text>
<text class="n" transform="translate(636.6 345.4) scale(1 1)" font-size="6.9" fill="#1c1c1c" text-anchor="middle">4</text>
<text class="n" transform="translate(535.2 396.8) scale(1 1)" font-size="6.9" fill="#1c1c1c" text-anchor="middle">0</text>
<text class="n" transform="translate(554.3 388.6) scale(1 1)" font-size="6.9" fill="#1c1c1c" text-anchor="middle">1</text>
<text class="n" transform="translate(573.7 380.9) scale(1 1)" font-size="6.9" fill="#1c1c1c" text-anchor="middle">2</text>
<text class="n" transform="translate(592.4 372.7) scale(1 1)" font-size="6.9" fill="#1c1c1c" text-anchor="middle">3</text>
<text class="n" transform="translate(610.7 364.5) scale(1 1)" font-size="6.9" fill="#1c1c1c" text-anchor="middle">4</text>
<text class="n" transform="translate(558.1 286.9) scale(1 1)" font-size="6.9" fill="#1c1c1c" letter-spacing="0.33">&#215;10<tspan font-size="4.6" dy="-2.6">-3</tspan><tspan dy="2.6"> m</tspan></text>
<text class="n" transform="translate(577.2 383.9) scale(1 1)" font-size="6.9" fill="#1c1c1c" letter-spacing="0.33">&#215;10<tspan font-size="4.6" dy="-2.6">-3</tspan><tspan dy="2.6"> m</tspan></text>
<text class="n" transform="translate(641.5 346.5) scale(1 1)" font-size="6.9" fill="#1c1c1c" letter-spacing="0.33">&#215;10<tspan font-size="4.6" dy="-2.6">-5</tspan><tspan dy="2.6"> m</tspan></text>
<rect x="433.1" y="416.6" width="152.5" height="3" fill="url(#barc)"/>
<line x1="433.1" y1="419.9" x2="585.6" y2="419.9" stroke="#888" stroke-width="0.4"/>
<text class="n" transform="translate(433.1 425.7) scale(1 1)" font-size="6.9" fill="#1c1c1c" text-anchor="middle">0</text>
<line x1="433.1" y1="419.6" x2="433.1" y2="421.1" stroke="#666" stroke-width="0.4"/>
<text class="n" transform="translate(467.4 425.7) scale(1 1)" font-size="6.9" fill="#1c1c1c" text-anchor="middle">2</text>
<line x1="467.4" y1="419.6" x2="467.4" y2="421.1" stroke="#666" stroke-width="0.4"/>
<text class="n" transform="translate(501.8 425.7) scale(1 1)" font-size="6.9" fill="#1c1c1c" text-anchor="middle">4</text>
<line x1="501.8" y1="419.6" x2="501.8" y2="421.1" stroke="#666" stroke-width="0.4"/>
<text class="n" transform="translate(536.3 425.7) scale(1 1)" font-size="6.9" fill="#1c1c1c" text-anchor="middle">6</text>
<line x1="536.3" y1="419.6" x2="536.3" y2="421.1" stroke="#666" stroke-width="0.4"/>
<text class="n" transform="translate(570.8 425.7) scale(1 1)" font-size="6.9" fill="#1c1c1c" text-anchor="middle">8</text>
<line x1="570.8" y1="419.6" x2="570.8" y2="421.1" stroke="#666" stroke-width="0.4"/>
<polygon points="385,415.3 391.2,415.3 388.1,420.2" fill="#000"/>
<text class="s" x="393.6" y="419.9" font-size="7.3" fill="#111" letter-spacing="0.45">-4.01&#215;10<tspan font-size="4.6" dy="-2.6">-8</tspan></text>
<text class="n" transform="translate(586.7 420.3) scale(1 1)" font-size="6.9" fill="#1c1c1c" letter-spacing="0.4">&#215;10<tspan font-size="4.6" dy="-2.6">-4</tspan></text>
<polygon points="608.9,420.3 615.6,420.3 612.25,414.9" fill="#000"/>
<text class="n" transform="translate(617.8 420.3) scale(1 1)" font-size="6.9" fill="#1c1c1c" letter-spacing="0.48">8.86&#215;10<tspan font-size="4.6" dy="-2.6">-4</tspan></text>
<text class="n" transform="translate(657.9 420.3) scale(1 1)" font-size="6.9" fill="#1c1c1c">V</text>
<text class="n" transform="translate(358.4 416.6) scale(1 1)" font-size="6.6" fill="#1c1c1c">y</text>
<text class="n" transform="translate(364 412.9) scale(1 1)" font-size="6.2" fill="#1c1c1c">z</text>
<text class="n" transform="translate(369.9 416.6) scale(1 1)" font-size="6.6" fill="#1c1c1c">x</text>
<line x1="365.7" y1="414" x2="365.7" y2="416.6" stroke="#4060ff" stroke-width="0.6"/>
<line x1="365.7" y1="416.6" x2="368.4" y2="417.3" stroke="#ff4040" stroke-width="0.6"/>
<line x1="365.7" y1="416.6" x2="363" y2="417.3" stroke="#40b040" stroke-width="0.6"/>
<text class="s" x="363.2" y="236.8" font-size="20.5" font-weight="bold">c</text>
<defs><linearGradient id="bge" x1="0" y1="0" x2="0" y2="1"><stop offset="0" stop-color="#f9fafd"/><stop offset="0.5" stop-color="#f1f5fb"/><stop offset="1" stop-color="#e6f0fa"/></linearGradient>
<linearGradient id="bare" x1="0" y1="0" x2="1" y2="0"><stop offset="0" stop-color="#00008c"/><stop offset="0.1" stop-color="#0000ff"/><stop offset="0.36" stop-color="#00d0ff"/><stop offset="0.5" stop-color="#60ffa0"/><stop offset="0.64" stop-color="#f0f000"/><stop offset="0.78" stop-color="#ff8000"/><stop offset="0.9" stop-color="#ff1000"/><stop offset="1" stop-color="#e00000"/></linearGradient></defs>
<rect x="355.4" y="434.9" width="317.8" height="203.8" fill="url(#bge)"/>
<line x1="397.1" y1="493.1" x2="486.7" y2="462.2" stroke="#bdbdbd" stroke-width="1.5"/>
<polygon points="493.15,463.35 494.25,461.85 635.3,554.4 634.7,555.2" fill="#bdbdbd"/>
<line x1="399.1" y1="500.1" x2="534.6" y2="599.5" stroke="#d4d6da" stroke-width="0.8"/>
<line x1="534.6" y1="599.5" x2="630.5" y2="559.3" stroke="#d4d6da" stroke-width="0.8"/>
<line x1="534.6" y1="593.9" x2="536.1" y2="599.4" stroke="#d4d6da" stroke-width="0.7"/>
<line x1="553.48" y1="585.98" x2="554.98" y2="591.48" stroke="#d4d6da" stroke-width="0.7"/>
<line x1="572.36" y1="578.06" x2="573.86" y2="583.56" stroke="#d4d6da" stroke-width="0.7"/>
<line x1="591.24" y1="570.14" x2="592.74" y2="575.64" stroke="#d4d6da" stroke-width="0.7"/>
<line x1="610.12" y1="562.22" x2="611.62" y2="567.72" stroke="#d4d6da" stroke-width="0.7"/>
<line x1="629" y1="554.3" x2="630.5" y2="559.8" stroke="#d4d6da" stroke-width="0.7"/>
<line x1="534.6" y1="593.9" x2="532.1" y2="597.1" stroke="#d4d6da" stroke-width="0.6"/>
<line x1="519.66" y1="582.97" x2="517.16" y2="586.17" stroke="#d4d6da" stroke-width="0.6"/>
<line x1="504.71" y1="572.03" x2="502.21" y2="575.23" stroke="#d4d6da" stroke-width="0.6"/>
<line x1="489.77" y1="561.1" x2="487.27" y2="564.3" stroke="#d4d6da" stroke-width="0.6"/>
<line x1="474.82" y1="550.17" x2="472.32" y2="553.37" stroke="#d4d6da" stroke-width="0.6"/>
<line x1="459.88" y1="539.23" x2="457.38" y2="542.43" stroke="#d4d6da" stroke-width="0.6"/>
<line x1="444.93" y1="528.3" x2="442.43" y2="531.5" stroke="#d4d6da" stroke-width="0.6"/>
<line x1="429.99" y1="517.37" x2="427.49" y2="520.57" stroke="#d4d6da" stroke-width="0.6"/>
<line x1="415.04" y1="506.43" x2="412.54" y2="509.63" stroke="#d4d6da" stroke-width="0.6"/>
<line x1="400.1" y1="495.5" x2="397.6" y2="498.7" stroke="#d4d6da" stroke-width="0.6"/>
<mask id="cpe" maskUnits="userSpaceOnUse" x="395.1" y="459.6" width="238.9" height="139.3"><polygon points="400.1,495.5 488.7,464.6 629,554.3 534.6,593.9" fill="#fff"/></mask><g mask="url(#cpe)">
<polygon points="388.96,492.1 486.1,458.59 640.75,556.78 536.59,600.82" fill="#1c00ff"/>
<polygon points="396.79,497.87 494.3,463.8 640.75,556.78 536.59,600.82" fill="#1c00ff"/>
<polygon points="397.91,498.69 495.47,464.54 640.75,556.78 536.59,600.82" fill="#1c00ff"/>
<polygon points="399.03,499.52 496.64,465.29 640.75,556.78 536.59,600.82" fill="#1c00ff"/>
<polygon points="400.14,500.34 497.82,466.03 640.75,556.78 536.59,600.82" fill="#1c00ff"/>
<polygon points="401.26,501.16 498.99,466.77 640.75,556.78 536.59,600.82" fill="#1d00ff"/>
<polygon points="402.38,501.99 500.16,467.52 640.75,556.78 536.59,600.82" fill="#1d00ff"/>
<polygon points="403.5,502.81 501.33,468.26 640.75,556.78 536.59,600.82" fill="#1d00ff"/>
<polygon points="404.62,503.63 502.5,469.01 640.75,556.78 536.59,600.82" fill="#1d00ff"/>
<polygon points="405.74,504.46 503.67,469.75 640.75,556.78 536.59,600.82" fill="#1d00ff"/>
<polygon points="406.85,505.28 504.85,470.49 640.75,556.78 536.59,600.82" fill="#1d00ff"/>
<polygon points="407.97,506.1 506.02,471.24 640.75,556.78 536.59,600.82" fill="#1d00ff"/>
<polygon points="409.09,506.93 507.19,471.98 640.75,556.78 536.59,600.82" fill="#1d00ff"/>
<polygon points="410.21,507.75 508.36,472.73 640.75,556.78 536.59,600.82" fill="#1d00ff"/>
<polygon points="411.33,508.58 509.53,473.47 640.75,556.78 536.59,600.82" fill="#1d00ff"/>
<polygon points="412.45,509.4 510.7,474.21 640.75,556.78 536.59,600.82" fill="#1d00ff"/>
<polygon points="413.56,510.22 511.88,474.96 640.75,556.78 536.59,600.82" fill="#1e00ff"/>
<polygon points="414.68,511.05 513.05,475.7 640.75,556.78 536.59,600.82" fill="#1e00ff"/>
<polygon points="415.8,511.87 514.22,476.44 640.75,556.78 536.59,600.82" fill="#1e00ff"/>
<polygon points="416.92,512.69 515.39,477.19 640.75,556.78 536.59,600.82" fill="#1e00ff"/>
<polygon points="418.04,513.52 516.56,477.93 640.75,556.78 536.59,600.82" fill="#1e00ff"/>
<polygon points="419.16,514.34 517.73,478.68 640.75,556.78 536.59,600.82" fill="#1e00ff"/>
<polygon points="420.28,515.16 518.9,479.42 640.75,556.78 536.59,600.82" fill="#1f02ff"/>
<polygon points="421.39,515.99 520.08,480.16 640.75,556.78 536.59,600.82" fill="#1f05fe"/>
<polygon points="422.51,516.81 521.25,480.91 640.75,556.78 536.59,600.82" fill="#2007fe"/>
<polygon points="423.63,517.64 522.42,481.65 640.75,556.78 536.59,600.82" fill="#2109fe"/>
<polygon points="424.75,518.46 523.59,482.4 640.75,556.78 536.59,600.82" fill="#220cfd"/>
<polygon points="425.87,519.28 524.76,483.14 640.75,556.78 536.59,600.82" fill="#220efd"/>
<polygon points="426.99,520.11 525.93,483.88 640.75,556.78 536.59,600.82" fill="#2310fd"/>
<polygon points="428.1,520.93 527.11,484.63 640.75,556.78 536.59,600.82" fill="#2413fc"/>
<polygon points="429.22,521.75 528.28,485.37 640.75,556.78 536.59,600.82" fill="#2517fb"/>
<polygon points="430.34,522.58 529.45,486.12 640.75,556.78 536.59,600.82" fill="#261dfa"/>
<polygon points="431.46,523.4 530.62,486.86 640.75,556.78 536.59,600.82" fill="#2823f9"/>
<polygon points="432.58,524.22 531.79,487.6 640.75,556.78 536.59,600.82" fill="#2a29f7"/>
<polygon points="433.7,525.05 532.96,488.35 640.75,556.78 536.59,600.82" fill="#2c2ff6"/>
<polygon points="434.81,525.87 534.14,489.09 640.75,556.78 536.59,600.82" fill="#2d36f4"/>
<polygon points="435.93,526.7 535.31,489.83 640.75,556.78 536.59,600.82" fill="#2f3cf3"/>
<polygon points="437.05,527.52 536.48,490.58 640.75,556.78 536.59,600.82" fill="#3041f2"/>
<polygon points="438.17,528.34 537.65,491.32 640.75,556.78 536.59,600.82" fill="#3246f1"/>
<polygon points="439.29,529.17 538.82,492.07 640.75,556.78 536.59,600.82" fill="#344bf1"/>
<polygon points="440.41,529.99 539.99,492.81 640.75,556.78 536.59,600.82" fill="#3650f0"/>
<polygon points="441.53,530.81 541.16,493.55 640.75,556.78 536.59,600.82" fill="#3754f0"/>
<polygon points="442.64,531.64 542.34,494.3 640.75,556.78 536.59,600.82" fill="#3959ef"/>
<polygon points="443.76,532.46 543.51,495.04 640.75,556.78 536.59,600.82" fill="#3a5eee"/>
<polygon points="444.88,533.28 544.68,495.79 640.75,556.78 536.59,600.82" fill="#3c63ee"/>
<polygon points="446,534.11 545.85,496.53 640.75,556.78 536.59,600.82" fill="#3f6aed"/>
<polygon points="447.12,534.93 547.02,497.27 640.75,556.78 536.59,600.82" fill="#4171ec"/>
<polygon points="448.24,535.76 548.19,498.02 640.75,556.78 536.59,600.82" fill="#4378eb"/>
<polygon points="449.35,536.58 549.37,498.76 640.75,556.78 536.59,600.82" fill="#467fea"/>
<polygon points="450.47,537.4 550.54,499.5 640.75,556.78 536.59,600.82" fill="#4886e9"/>
<polygon points="451.59,538.23 551.71,500.25 640.75,556.78 536.59,600.82" fill="#4a8de8"/>
<polygon points="452.71,539.05 552.88,500.99 640.75,556.78 536.59,600.82" fill="#4b95e8"/>
<polygon points="453.83,539.87 554.05,501.74 640.75,556.78 536.59,600.82" fill="#4c9de9"/>
<polygon points="454.95,540.7 555.22,502.48 640.75,556.78 536.59,600.82" fill="#4da5e9"/>
<polygon points="456.06,541.52 556.4,503.22 640.75,556.78 536.59,600.82" fill="#4eade9"/>
<polygon points="457.18,542.34 557.57,503.97 640.75,556.78 536.59,600.82" fill="#4fb5ea"/>
<polygon points="458.3,543.17 558.74,504.71 640.75,556.78 536.59,600.82" fill="#50bdea"/>
<polygon points="459.42,543.99 559.91,505.46 640.75,556.78 536.59,600.82" fill="#53cbeb"/>
<polygon points="460.54,544.82 561.08,506.2 640.75,556.78 536.59,600.82" fill="#56d8eb"/>
<polygon points="461.66,545.64 562.25,506.94 640.75,556.78 536.59,600.82" fill="#59e5ec"/>
<polygon points="462.77,546.46 563.42,507.69 640.75,556.78 536.59,600.82" fill="#5beeea"/>
<polygon points="463.89,547.29 564.6,508.43 640.75,556.78 536.59,600.82" fill="#5df1e7"/>
<polygon points="465.01,548.11 565.77,509.18 640.75,556.78 536.59,600.82" fill="#5ff4e4"/>
<polygon points="466.13,548.93 566.94,509.92 640.75,556.78 536.59,600.82" fill="#63f5dc"/>
<polygon points="467.25,549.76 568.11,510.66 640.75,556.78 536.59,600.82" fill="#68f4d1"/>
<polygon points="468.37,550.58 569.28,511.41 640.75,556.78 536.59,600.82" fill="#6ef3c6"/>
<polygon points="469.49,551.4 570.45,512.15 640.75,556.78 536.59,600.82" fill="#74f1b9"/>
<polygon points="470.6,552.23 571.63,512.89 640.75,556.78 536.59,600.82" fill="#7defa7"/>
<polygon points="471.72,553.05 572.8,513.64 640.75,556.78 536.59,600.82" fill="#86ed95"/>
<polygon points="472.84,553.88 573.97,514.38 640.75,556.78 536.59,600.82" fill="#8fea83"/>
<polygon points="473.96,554.7 575.14,515.13 640.75,556.78 536.59,600.82" fill="#97e871"/>
<polygon points="475.08,555.52 576.31,515.87 640.75,556.78 536.59,600.82" fill="#a0e766"/>
<polygon points="476.2,556.35 577.48,516.61 640.75,556.78 536.59,600.82" fill="#a9e55c"/>
<polygon points="477.31,557.17 578.66,517.36 640.75,556.78 536.59,600.82" fill="#b2e452"/>
<polygon points="478.43,557.99 579.83,518.1 640.75,556.78 536.59,600.82" fill="#bbe247"/>
<polygon points="479.55,558.82 581,518.85 640.75,556.78 536.59,600.82" fill="#c4e13d"/>
<polygon points="480.67,559.64 582.17,519.59 640.75,556.78 536.59,600.82" fill="#ccdf37"/>
<polygon points="481.79,560.46 583.34,520.33 640.75,556.78 536.59,600.82" fill="#d3dd35"/>
<polygon points="482.91,561.29 584.51,521.08 640.75,556.78 536.59,600.82" fill="#d9dc34"/>
<polygon points="484.02,562.11 585.69,521.82 640.75,556.78 536.59,600.82" fill="#e0da32"/>
<polygon points="485.14,562.93 586.86,522.56 640.75,556.78 536.59,600.82" fill="#e7d830"/>
<polygon points="486.26,563.76 588.03,523.31 640.75,556.78 536.59,600.82" fill="#e8cd2e"/>
<polygon points="487.38,564.58 589.2,524.05 640.75,556.78 536.59,600.82" fill="#e8c02d"/>
<polygon points="488.5,565.41 590.37,524.8 640.75,556.78 536.59,600.82" fill="#e8b32b"/>
<polygon points="489.62,566.23 591.54,525.54 640.75,556.78 536.59,600.82" fill="#e8a629"/>
<polygon points="490.74,567.05 592.71,526.28 640.75,556.78 536.59,600.82" fill="#e79827"/>
<polygon points="491.85,567.88 593.89,527.03 640.75,556.78 536.59,600.82" fill="#e58825"/>
<polygon points="492.97,568.7 595.06,527.77 640.75,556.78 536.59,600.82" fill="#e37823"/>
<polygon points="494.09,569.52 596.23,528.52 640.75,556.78 536.59,600.82" fill="#e16821"/>
<polygon points="495.21,570.35 597.4,529.26 640.75,556.78 536.59,600.82" fill="#df5a1f"/>
<polygon points="496.33,571.17 598.57,530 640.75,556.78 536.59,600.82" fill="#de4d1d"/>
<polygon points="497.45,571.99 599.74,530.75 640.75,556.78 536.59,600.82" fill="#dd3f1b"/>
<polygon points="498.56,572.82 600.92,531.49 640.75,556.78 536.59,600.82" fill="#dc3218"/>
<polygon points="499.68,573.64 602.09,532.24 640.75,556.78 536.59,600.82" fill="#dc2b18"/>
<polygon points="500.8,574.47 603.26,532.98 640.75,556.78 536.59,600.82" fill="#dc2618"/>
<polygon points="501.92,575.29 604.43,533.72 640.75,556.78 536.59,600.82" fill="#dc2418"/>
<polygon points="503.04,576.11 605.6,534.47 640.75,556.78 536.59,600.82" fill="#dc2418"/>
<polygon points="504.16,576.94 606.77,535.21 640.75,556.78 536.59,600.82" fill="#dc2418"/>
<polygon points="505.27,577.76 607.95,535.95 640.75,556.78 536.59,600.82" fill="#db2418"/>
<polygon points="506.39,578.58 609.12,536.7 640.75,556.78 536.59,600.82" fill="#db2418"/>
<polygon points="507.51,579.41 610.29,537.44 640.75,556.78 536.59,600.82" fill="#db2418"/>
<polygon points="508.63,580.23 611.46,538.19 640.75,556.78 536.59,600.82" fill="#db2417"/>
<polygon points="509.75,581.05 612.63,538.93 640.75,556.78 536.59,600.82" fill="#db2417"/>
<polygon points="510.87,581.88 613.8,539.67 640.75,556.78 536.59,600.82" fill="#db2417"/>
<polygon points="511.99,582.7 614.97,540.42 640.75,556.78 536.59,600.82" fill="#da2417"/>
<polygon points="513.1,583.53 616.15,541.16 640.75,556.78 536.59,600.82" fill="#da2417"/>
<polygon points="514.22,584.35 617.32,541.91 640.75,556.78 536.59,600.82" fill="#da2417"/>
<polygon points="515.34,585.17 618.49,542.65 640.75,556.78 536.59,600.82" fill="#da2417"/>
<polygon points="516.46,586 619.66,543.39 640.75,556.78 536.59,600.82" fill="#da2417"/>
<polygon points="517.58,586.82 620.83,544.14 640.75,556.78 536.59,600.82" fill="#da2417"/>
<polygon points="518.7,587.64 622,544.88 640.75,556.78 536.59,600.82" fill="#da2417"/>
<polygon points="519.81,588.47 623.18,545.63 640.75,556.78 536.59,600.82" fill="#d92417"/>
<polygon points="520.93,589.29 624.35,546.37 640.75,556.78 536.59,600.82" fill="#d92417"/>
<polygon points="522.05,590.11 625.52,547.11 640.75,556.78 536.59,600.82" fill="#d92417"/>
<polygon points="523.17,590.94 626.69,547.86 640.75,556.78 536.59,600.82" fill="#d92416"/>
<polygon points="524.29,591.76 627.86,548.6 640.75,556.78 536.59,600.82" fill="#d92416"/>
<polygon points="525.41,592.59 629.03,549.34 640.75,556.78 536.59,600.82" fill="#d92416"/>
<polygon points="526.52,593.41 630.21,550.09 640.75,556.78 536.59,600.82" fill="#d82416"/>
<polygon points="527.64,594.23 631.38,550.83 640.75,556.78 536.59,600.82" fill="#d82416"/>
<polygon points="528.76,595.06 632.55,551.58 640.75,556.78 536.59,600.82" fill="#d82416"/>
</g>
<line x1="424.31" y1="513.21" x2="513.95" y2="480.75" stroke="#14148c" stroke-width="0.55" opacity="0.8"/>
<line x1="505.01" y1="572.25" x2="598.13" y2="534.57" stroke="#5a1408" stroke-width="0.55" opacity="0.8"/>
<line x1="473.2" y1="497.8" x2="582.4" y2="572.2" stroke="#ffffe0" stroke-width="0.45" opacity="0.14"/>
<line x1="498" y1="514.7" x2="553" y2="552.2" stroke="#ffffd0" stroke-width="0.5" opacity="0.3"/>
<text class="n" transform="translate(521.1 477) scale(1 1)" font-size="6.9" fill="#1c1c1c" text-anchor="middle">8</text>
<text class="n" transform="translate(547.7 494.2) scale(1 1)" font-size="6.9" fill="#1c1c1c" text-anchor="middle">6</text>
<text class="n" transform="translate(575.9 512.4) scale(1 1)" font-size="6.9" fill="#1c1c1c" text-anchor="middle">4</text>
<text class="n" transform="translate(604.5 530.6) scale(1 1)" font-size="6.9" fill="#1c1c1c" text-anchor="middle">2</text>
<text class="n" transform="translate(635.3 550.4) scale(1 1)" font-size="6.9" fill="#1c1c1c" text-anchor="middle">0</text>
<text class="n" transform="translate(637.6 555.9) scale(1 1)" font-size="6.9" fill="#1c1c1c" text-anchor="middle">4</text>
<text class="n" transform="translate(536.2 607.3) scale(1 1)" font-size="6.9" fill="#1c1c1c" text-anchor="middle">0</text>
<text class="n" transform="translate(555.3 599.1) scale(1 1)" font-size="6.9" fill="#1c1c1c" text-anchor="middle">1</text>
<text class="n" transform="translate(574.7 591.4) scale(1 1)" font-size="6.9" fill="#1c1c1c" text-anchor="middle">2</text>
<text class="n" transform="translate(593.4 583.2) scale(1 1)" font-size="6.9" fill="#1c1c1c" text-anchor="middle">3</text>
<text class="n" transform="translate(611.7 575) scale(1 1)" font-size="6.9" fill="#1c1c1c" text-anchor="middle">4</text>
<text class="n" transform="translate(559.1 497.4) scale(1 1)" font-size="6.9" fill="#1c1c1c" letter-spacing="0.33">&#215;10<tspan font-size="4.6" dy="-2.6">-3</tspan><tspan dy="2.6"> m</tspan></text>
<text class="n" transform="translate(578.2 594.4) scale(1 1)" font-size="6.9" fill="#1c1c1c" letter-spacing="0.33">&#215;10<tspan font-size="4.6" dy="-2.6">-3</tspan><tspan dy="2.6"> m</tspan></text>
<text class="n" transform="translate(642.5 557) scale(1 1)" font-size="6.9" fill="#1c1c1c" letter-spacing="0.33">&#215;10<tspan font-size="4.6" dy="-2.6">-5</tspan><tspan dy="2.6"> m</tspan></text>
<rect x="434.1" y="627.1" width="152.5" height="3" fill="url(#bare)"/>
<line x1="434.1" y1="630.4" x2="586.6" y2="630.4" stroke="#888" stroke-width="0.4"/>
<text class="n" transform="translate(434.8 636.2) scale(1 1)" font-size="6.9" fill="#1c1c1c" text-anchor="middle">0</text>
<line x1="434.8" y1="630.1" x2="434.8" y2="631.6" stroke="#666" stroke-width="0.4"/>
<text class="n" transform="translate(477.4 636.2) scale(1 1)" font-size="6.9" fill="#1c1c1c" text-anchor="middle">5</text>
<line x1="477.4" y1="630.1" x2="477.4" y2="631.6" stroke="#666" stroke-width="0.4"/>
<text class="n" transform="translate(520 636.2) scale(1 1)" font-size="6.9" fill="#1c1c1c" text-anchor="middle">10</text>
<line x1="520" y1="630.1" x2="520" y2="631.6" stroke="#666" stroke-width="0.4"/>
<text class="n" transform="translate(562.6 636.2) scale(1 1)" font-size="6.9" fill="#1c1c1c" text-anchor="middle">15</text>
<line x1="562.6" y1="630.1" x2="562.6" y2="631.6" stroke="#666" stroke-width="0.4"/>
<polygon points="386,625.8 392.2,625.8 389.1,630.7" fill="#000"/>
<text class="s" x="394.6" y="630.4" font-size="7.3" fill="#111" letter-spacing="0.45">-8.03&#215;10<tspan font-size="4.6" dy="-2.6">-8</tspan></text>
<text class="n" transform="translate(587.7 630.8) scale(1 1)" font-size="6.9" fill="#1c1c1c" letter-spacing="0.4">&#215;10<tspan font-size="4.6" dy="-2.6">-4</tspan></text>
<polygon points="609.9,630.8 616.6,630.8 613.25,625.4" fill="#000"/>
<text class="n" transform="translate(618.8 630.8) scale(1 1)" font-size="6.9" fill="#1c1c1c" letter-spacing="0.48">1.77&#215;10<tspan font-size="4.6" dy="-2.6">-3</tspan></text>
<text class="n" transform="translate(658.9 630.8) scale(1 1)" font-size="6.9" fill="#1c1c1c">V</text>
<text class="n" transform="translate(359.4 627.1) scale(1 1)" font-size="6.6" fill="#1c1c1c">y</text>
<text class="n" transform="translate(365 623.4) scale(1 1)" font-size="6.2" fill="#1c1c1c">z</text>
<text class="n" transform="translate(370.9 627.1) scale(1 1)" font-size="6.6" fill="#1c1c1c">x</text>
<line x1="366.7" y1="624.5" x2="366.7" y2="627.1" stroke="#4060ff" stroke-width="0.6"/>
<line x1="366.7" y1="627.1" x2="369.4" y2="627.8" stroke="#ff4040" stroke-width="0.6"/>
<line x1="366.7" y1="627.1" x2="364" y2="627.8" stroke="#40b040" stroke-width="0.6"/>
<text class="s" x="363.4" y="448.3" font-size="20.5" font-weight="bold">e</text>
</g>
<g id="panel_fg">
<rect x="0" y="640.6" width="345" height="290" fill="#fff"/>
<polyline points="65.3,765.83 93.94,787.04 122.59,808.25 151.23,830.06 179.88,850.67" fill="none" stroke="#6ec6f7" stroke-width="1.5" stroke-dasharray="2.5 6.6" stroke-dashoffset="1.9"/>
<polyline points="65.3,744.62 103.49,772.49 141.68,800.37 179.88,828.25 218.07,856.12" fill="none" stroke="#f08228" stroke-width="1.5" stroke-dasharray="2.5 6.6" stroke-dashoffset="1.9"/>
<polyline points="65.3,711.29 103.49,740.38 141.68,768.25 179.88,796.13 218.07,824.61 256.26,853.09" fill="none" stroke="#f83c98" stroke-width="1.5" stroke-dasharray="2.5 6.6" stroke-dashoffset="1.9"/>
<polyline points="65.3,677.96 113.04,711.89 160.78,747.04 208.52,781.58 256.26,815.52 304,850.06" fill="none" stroke="#2e8a22" stroke-width="1.5" stroke-dasharray="2.5 6.6" stroke-dashoffset="1.9"/>
<circle cx="65.3" cy="765.83" r="3.45" fill="#6ec6f7"/>
<circle cx="93.94" cy="787.04" r="3.45" fill="#6ec6f7"/>
<circle cx="122.59" cy="808.25" r="3.45" fill="#6ec6f7"/>
<circle cx="151.23" cy="830.06" r="3.45" fill="#6ec6f7"/>
<circle cx="179.88" cy="850.67" r="3.45" fill="#6ec6f7"/>
<circle cx="65.3" cy="744.62" r="3.45" fill="#f08228"/>
<circle cx="103.49" cy="772.49" r="3.45" fill="#f08228"/>
<circle cx="141.68" cy="800.37" r="3.45" fill="#f08228"/>
<circle cx="179.88" cy="828.25" r="3.45" fill="#f08228"/>
<circle cx="218.07" cy="856.12" r="3.45" fill="#f08228"/>
<circle cx="65.3" cy="711.29" r="3.45" fill="#f83c98"/>
<circle cx="103.49" cy="740.38" r="3.45" fill="#f83c98"/>
<circle cx="141.68" cy="768.25" r="3.45" fill="#f83c98"/>
<circle cx="179.88" cy="796.13" r="3.45" fill="#f83c98"/>
<circle cx="218.07" cy="824.61" r="3.45" fill="#f83c98"/>
<circle cx="256.26" cy="853.09" r="3.45" fill="#f83c98"/>
<circle cx="65.3" cy="677.96" r="3.45" fill="#2e8a22"/>
<circle cx="113.04" cy="711.89" r="3.45" fill="#2e8a22"/>
<circle cx="160.78" cy="747.04" r="3.45" fill="#2e8a22"/>
<circle cx="208.52" cy="781.58" r="3.45" fill="#2e8a22"/>
<circle cx="256.26" cy="815.52" r="3.45" fill="#2e8a22"/>
<circle cx="304" cy="850.06" r="3.45" fill="#2e8a22"/>
<rect x="41" y="651.9" width="288" height="227.4" fill="none" stroke="#000" stroke-width="1.4"/>
<line x1="65.3" y1="879.3" x2="65.3" y2="882.9" stroke="#000" stroke-width="1.1"/>
<text class="s" x="65.3" y="896.4" font-size="13.3" text-anchor="middle">0</text>
<line x1="113.04" y1="879.3" x2="113.04" y2="882.9" stroke="#000" stroke-width="1.1"/>
<text class="s" x="113.04" y="896.4" font-size="13.3" text-anchor="middle">5</text>
<line x1="160.78" y1="879.3" x2="160.78" y2="882.9" stroke="#000" stroke-width="1.1"/>
<text class="s" x="160.78" y="896.4" font-size="13.3" text-anchor="middle">10</text>
<line x1="208.52" y1="879.3" x2="208.52" y2="882.9" stroke="#000" stroke-width="1.1"/>
<text class="s" x="208.52" y="896.4" font-size="13.3" text-anchor="middle">15</text>
<line x1="256.26" y1="879.3" x2="256.26" y2="882.9" stroke="#000" stroke-width="1.1"/>
<text class="s" x="256.26" y="896.4" font-size="13.3" text-anchor="middle">20</text>
<line x1="304" y1="879.3" x2="304" y2="882.9" stroke="#000" stroke-width="1.1"/>
<text class="s" x="304" y="896.4" font-size="13.3" text-anchor="middle">25</text>
<line x1="41.43" y1="879.3" x2="41.43" y2="881.5" stroke="#000" stroke-width="1"/>
<line x1="89.17" y1="879.3" x2="89.17" y2="881.5" stroke="#000" stroke-width="1"/>
<line x1="136.91" y1="879.3" x2="136.91" y2="881.5" stroke="#000" stroke-width="1"/>
<line x1="184.65" y1="879.3" x2="184.65" y2="881.5" stroke="#000" stroke-width="1"/>
<line x1="232.39" y1="879.3" x2="232.39" y2="881.5" stroke="#000" stroke-width="1"/>
<line x1="280.13" y1="879.3" x2="280.13" y2="881.5" stroke="#000" stroke-width="1"/>
<line x1="327.87" y1="879.3" x2="327.87" y2="881.5" stroke="#000" stroke-width="1"/>
<line x1="37.4" y1="864" x2="41" y2="864" stroke="#000" stroke-width="1.1"/>
<text class="s" x="34.6" y="868.39" font-size="13.3" text-anchor="end">0</text>
<line x1="37.4" y1="833.7" x2="41" y2="833.7" stroke="#000" stroke-width="1.1"/>
<text class="s" x="34.6" y="838.09" font-size="13.3" text-anchor="end">5</text>
<line x1="37.4" y1="803.4" x2="41" y2="803.4" stroke="#000" stroke-width="1.1"/>
<text class="s" x="34.6" y="807.79" font-size="13.3" text-anchor="end">10</text>
<line x1="37.4" y1="773.1" x2="41" y2="773.1" stroke="#000" stroke-width="1.1"/>
<text class="s" x="34.6" y="777.49" font-size="13.3" text-anchor="end">15</text>
<line x1="37.4" y1="742.8" x2="41" y2="742.8" stroke="#000" stroke-width="1.1"/>
<text class="s" x="34.6" y="747.19" font-size="13.3" text-anchor="end">20</text>
<line x1="37.4" y1="712.5" x2="41" y2="712.5" stroke="#000" stroke-width="1.1"/>
<text class="s" x="34.6" y="716.89" font-size="13.3" text-anchor="end">25</text>
<line x1="37.4" y1="682.2" x2="41" y2="682.2" stroke="#000" stroke-width="1.1"/>
<text class="s" x="34.6" y="686.59" font-size="13.3" text-anchor="end">30</text>
<line x1="37.4" y1="651.9" x2="41" y2="651.9" stroke="#000" stroke-width="1.1"/>
<text class="s" x="34.6" y="656.29" font-size="13.3" text-anchor="end">35</text>
<line x1="38.8" y1="879.15" x2="41" y2="879.15" stroke="#000" stroke-width="1"/>
<line x1="38.8" y1="848.85" x2="41" y2="848.85" stroke="#000" stroke-width="1"/>
<line x1="38.8" y1="818.55" x2="41" y2="818.55" stroke="#000" stroke-width="1"/>
<line x1="38.8" y1="788.25" x2="41" y2="788.25" stroke="#000" stroke-width="1"/>
<line x1="38.8" y1="757.95" x2="41" y2="757.95" stroke="#000" stroke-width="1"/>
<line x1="38.8" y1="727.65" x2="41" y2="727.65" stroke="#000" stroke-width="1"/>
<line x1="38.8" y1="697.35" x2="41" y2="697.35" stroke="#000" stroke-width="1"/>
<line x1="38.8" y1="667.05" x2="41" y2="667.05" stroke="#000" stroke-width="1"/>
<text class="s" x="184.8" y="919" font-size="13.6" text-anchor="middle">Output current (mA)</text>
<text class="s" x="11.8" y="763" font-size="13.6" text-anchor="middle" transform="rotate(-90 11.8 763)">Output voltage (mV)</text>
<line x1="244.9" y1="660.7" x2="247.1" y2="660.7" stroke="#6ec6f7" stroke-width="1.4"/>
<line x1="263.2" y1="660.7" x2="265.4" y2="660.7" stroke="#6ec6f7" stroke-width="1.4"/>
<circle cx="257.4" cy="660.7" r="3.5" fill="#6ec6f7"/>
<text class="s" x="269.4" y="664.25" font-size="10.75">&#916;T = 26.0 K</text>
<line x1="244.9" y1="673.5" x2="247.1" y2="673.5" stroke="#f08228" stroke-width="1.4"/>
<line x1="263.2" y1="673.5" x2="265.4" y2="673.5" stroke="#f08228" stroke-width="1.4"/>
<circle cx="257.4" cy="673.5" r="3.5" fill="#f08228"/>
<text class="s" x="269.4" y="677.05" font-size="10.75">&#916;T = 32.5 K</text>
<line x1="244.9" y1="686.3" x2="247.1" y2="686.3" stroke="#f83c98" stroke-width="1.4"/>
<line x1="263.2" y1="686.3" x2="265.4" y2="686.3" stroke="#f83c98" stroke-width="1.4"/>
<circle cx="257.4" cy="686.3" r="3.5" fill="#f83c98"/>
<text class="s" x="269.4" y="689.85" font-size="10.75">&#916;T = 42.2 K</text>
<line x1="244.9" y1="699.1" x2="247.1" y2="699.1" stroke="#2e8a22" stroke-width="1.4"/>
<line x1="263.2" y1="699.1" x2="265.4" y2="699.1" stroke="#2e8a22" stroke-width="1.4"/>
<circle cx="257.4" cy="699.1" r="3.5" fill="#2e8a22"/>
<text class="s" x="269.4" y="702.65" font-size="10.75">&#916;T = 57.0 K</text>
<text class="s" x="2.4" y="652" font-size="19.5" font-weight="bold">f</text>
<rect x="345" y="638.7" width="340" height="290" fill="#fff"/>
<polyline points="409.6,860.2 437.92,824.44 466.24,808.45 494.56,812.68 522.88,835.73" fill="none" stroke="#6ec6f7" stroke-width="1.5" stroke-dasharray="2.5 6.6" stroke-dashoffset="1.9"/>
<polyline points="409.6,860.2 447.36,803.27 485.12,781.16 522.88,793.86 560.64,841.38" fill="none" stroke="#f08228" stroke-width="1.5" stroke-dasharray="2.5 6.6" stroke-dashoffset="1.9"/>
<polyline points="409.6,860.2 447.36,783.51 485.12,741.16 522.88,733.64 560.64,762.81 598.4,826.32" fill="none" stroke="#f83c98" stroke-width="1.5" stroke-dasharray="2.5 6.6" stroke-dashoffset="1.9"/>
<polyline points="409.6,860.2 456.8,742.58 504,678.59 551.2,667.77 598.4,709.17 645.6,806.09" fill="none" stroke="#2e8a22" stroke-width="1.5" stroke-dasharray="2.5 6.6" stroke-dashoffset="1.9"/>
<circle cx="409.6" cy="860.2" r="3.45" fill="#6ec6f7"/>
<circle cx="437.92" cy="824.44" r="3.45" fill="#6ec6f7"/>
<circle cx="466.24" cy="808.45" r="3.45" fill="#6ec6f7"/>
<circle cx="494.56" cy="812.68" r="3.45" fill="#6ec6f7"/>
<circle cx="522.88" cy="835.73" r="3.45" fill="#6ec6f7"/>
<circle cx="409.6" cy="860.2" r="3.45" fill="#f08228"/>
<circle cx="447.36" cy="803.27" r="3.45" fill="#f08228"/>
<circle cx="485.12" cy="781.16" r="3.45" fill="#f08228"/>
<circle cx="522.88" cy="793.86" r="3.45" fill="#f08228"/>
<circle cx="560.64" cy="841.38" r="3.45" fill="#f08228"/>
<circle cx="409.6" cy="860.2" r="3.45" fill="#f83c98"/>
<circle cx="447.36" cy="783.51" r="3.45" fill="#f83c98"/>
<circle cx="485.12" cy="741.16" r="3.45" fill="#f83c98"/>
<circle cx="522.88" cy="733.64" r="3.45" fill="#f83c98"/>
<circle cx="560.64" cy="762.81" r="3.45" fill="#f83c98"/>
<circle cx="598.4" cy="826.32" r="3.45" fill="#f83c98"/>
<circle cx="409.6" cy="860.2" r="3.45" fill="#2e8a22"/>
<circle cx="456.8" cy="742.58" r="3.45" fill="#2e8a22"/>
<circle cx="504" cy="678.59" r="3.45" fill="#2e8a22"/>
<circle cx="551.2" cy="667.77" r="3.45" fill="#2e8a22"/>
<circle cx="598.4" cy="709.17" r="3.45" fill="#2e8a22"/>
<circle cx="645.6" cy="806.09" r="3.45" fill="#2e8a22"/>
<rect x="385.2" y="648.6" width="284.8" height="235.5" fill="none" stroke="#000" stroke-width="1.4"/>
<line x1="409.6" y1="884.1" x2="409.6" y2="887.7" stroke="#000" stroke-width="1.1"/>
<text class="s" x="409.6" y="901.2" font-size="12.6" text-anchor="middle">0</text>
<line x1="456.8" y1="884.1" x2="456.8" y2="887.7" stroke="#000" stroke-width="1.1"/>
<text class="s" x="456.8" y="901.2" font-size="12.6" text-anchor="middle">5</text>
<line x1="504" y1="884.1" x2="504" y2="887.7" stroke="#000" stroke-width="1.1"/>
<text class="s" x="504" y="901.2" font-size="12.6" text-anchor="middle">10</text>
<line x1="551.2" y1="884.1" x2="551.2" y2="887.7" stroke="#000" stroke-width="1.1"/>
<text class="s" x="551.2" y="901.2" font-size="12.6" text-anchor="middle">15</text>
<line x1="598.4" y1="884.1" x2="598.4" y2="887.7" stroke="#000" stroke-width="1.1"/>
<text class="s" x="598.4" y="901.2" font-size="12.6" text-anchor="middle">20</text>
<line x1="645.6" y1="884.1" x2="645.6" y2="887.7" stroke="#000" stroke-width="1.1"/>
<text class="s" x="645.6" y="901.2" font-size="12.6" text-anchor="middle">25</text>
<line x1="386" y1="884.1" x2="386" y2="886.3" stroke="#000" stroke-width="1"/>
<line x1="433.2" y1="884.1" x2="433.2" y2="886.3" stroke="#000" stroke-width="1"/>
<line x1="480.4" y1="884.1" x2="480.4" y2="886.3" stroke="#000" stroke-width="1"/>
<line x1="527.6" y1="884.1" x2="527.6" y2="886.3" stroke="#000" stroke-width="1"/>
<line x1="574.8" y1="884.1" x2="574.8" y2="886.3" stroke="#000" stroke-width="1"/>
<line x1="622" y1="884.1" x2="622" y2="886.3" stroke="#000" stroke-width="1"/>
<line x1="669.2" y1="884.1" x2="669.2" y2="886.3" stroke="#000" stroke-width="1"/>
<line x1="381.6" y1="860.2" x2="385.2" y2="860.2" stroke="#000" stroke-width="1.1"/>
<text class="s" x="378.8" y="864.36" font-size="12.6" text-anchor="end">0</text>
<line x1="381.6" y1="813.15" x2="385.2" y2="813.15" stroke="#000" stroke-width="1.1"/>
<text class="s" x="378.8" y="817.31" font-size="12.6" text-anchor="end">50</text>
<line x1="381.6" y1="766.1" x2="385.2" y2="766.1" stroke="#000" stroke-width="1.1"/>
<text class="s" x="378.8" y="770.26" font-size="12.6" text-anchor="end">100</text>
<line x1="381.6" y1="719.05" x2="385.2" y2="719.05" stroke="#000" stroke-width="1.1"/>
<text class="s" x="378.8" y="723.21" font-size="12.6" text-anchor="end">150</text>
<line x1="381.6" y1="672" x2="385.2" y2="672" stroke="#000" stroke-width="1.1"/>
<text class="s" x="378.8" y="676.16" font-size="12.6" text-anchor="end">200</text>
<line x1="383" y1="883.73" x2="385.2" y2="883.73" stroke="#000" stroke-width="1"/>
<line x1="383" y1="836.68" x2="385.2" y2="836.68" stroke="#000" stroke-width="1"/>
<line x1="383" y1="789.62" x2="385.2" y2="789.62" stroke="#000" stroke-width="1"/>
<line x1="383" y1="742.58" x2="385.2" y2="742.58" stroke="#000" stroke-width="1"/>
<line x1="383" y1="695.53" x2="385.2" y2="695.53" stroke="#000" stroke-width="1"/>
<line x1="383" y1="648.48" x2="385.2" y2="648.48" stroke="#000" stroke-width="1"/>
<text class="s" x="527.5" y="922.7" font-size="13.1" text-anchor="middle">Output current (mA)</text>
<text class="s" x="354" y="766" font-size="13.1" text-anchor="middle" transform="rotate(-90 354 766)">Output power (&#956;W)</text>
<line x1="388.5" y1="656.9" x2="390.7" y2="656.9" stroke="#6ec6f7" stroke-width="1.4"/>
<line x1="406.8" y1="656.9" x2="409" y2="656.9" stroke="#6ec6f7" stroke-width="1.4"/>
<circle cx="401" cy="656.9" r="3.5" fill="#6ec6f7"/>
<text class="s" x="413" y="660.27" font-size="10.2">&#916;T = 26.0 K</text>
<line x1="388.5" y1="670.1" x2="390.7" y2="670.1" stroke="#f08228" stroke-width="1.4"/>
<line x1="406.8" y1="670.1" x2="409" y2="670.1" stroke="#f08228" stroke-width="1.4"/>
<circle cx="401" cy="670.1" r="3.5" fill="#f08228"/>
<text class="s" x="413" y="673.47" font-size="10.2">&#916;T = 32.5 K</text>
<line x1="388.5" y1="683.3" x2="390.7" y2="683.3" stroke="#f83c98" stroke-width="1.4"/>
<line x1="406.8" y1="683.3" x2="409" y2="683.3" stroke="#f83c98" stroke-width="1.4"/>
<circle cx="401" cy="683.3" r="3.5" fill="#f83c98"/>
<text class="s" x="413" y="686.67" font-size="10.2">&#916;T = 42.2 K</text>
<line x1="388.5" y1="696.5" x2="390.7" y2="696.5" stroke="#2e8a22" stroke-width="1.4"/>
<line x1="406.8" y1="696.5" x2="409" y2="696.5" stroke="#2e8a22" stroke-width="1.4"/>
<circle cx="401" cy="696.5" r="3.5" fill="#2e8a22"/>
<text class="s" x="413" y="699.87" font-size="10.2">&#916;T = 57.0 K</text>
<text class="s" x="346" y="660" font-size="19.5" font-weight="bold">g</text>
</g>
</svg>
</body></html>
